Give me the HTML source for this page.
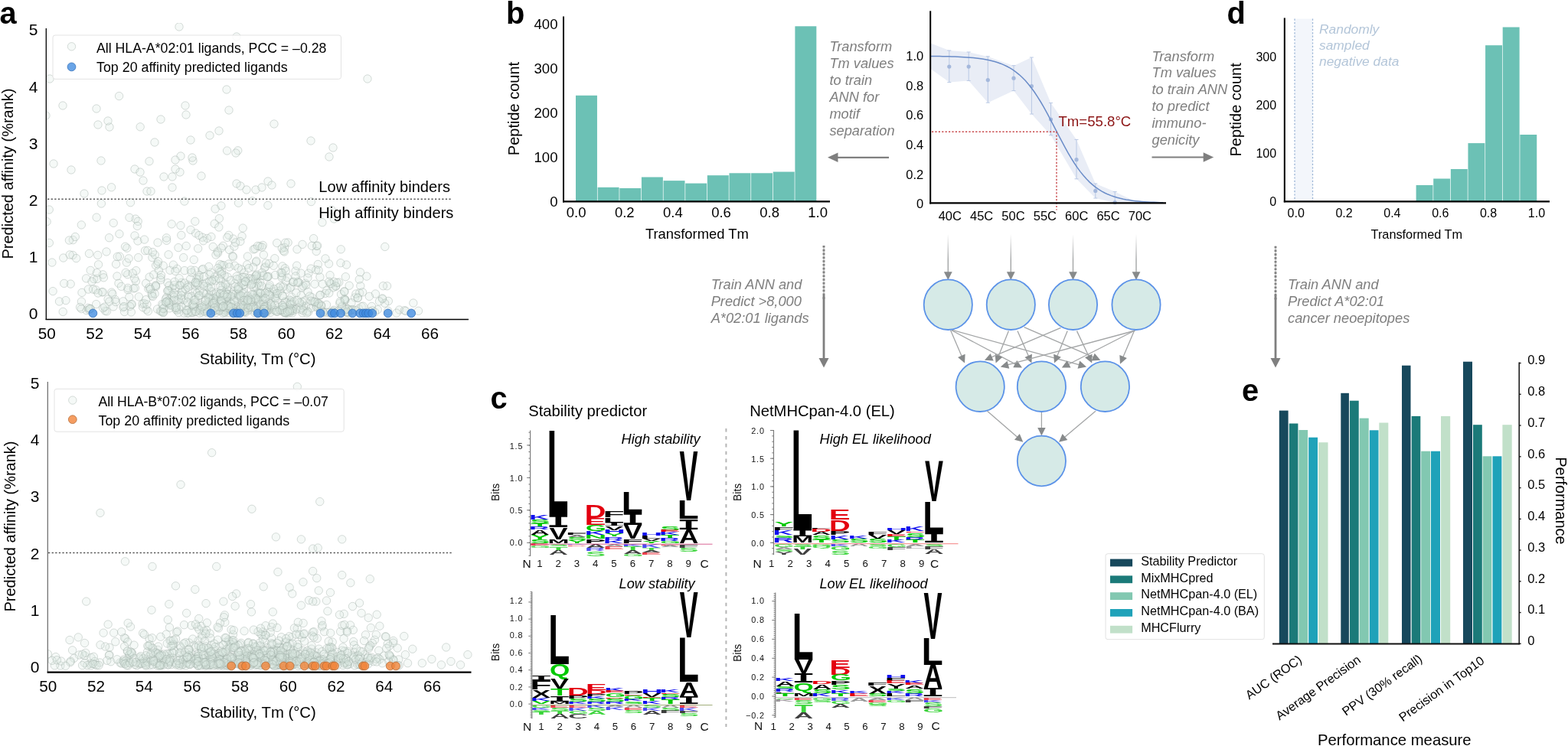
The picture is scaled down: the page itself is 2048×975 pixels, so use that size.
<!DOCTYPE html>
<html lang="en"><head><meta charset="utf-8"><title>Figure</title>
<style>
html,body{margin:0;padding:0;background:#fff;}
body{width:2048px;height:975px;overflow:hidden;}
svg{display:block;font-family:"Liberation Sans",sans-serif;fill:#000;}
</style></head><body>
<svg width="2048" height="975" viewBox="0 0 2048 975">
<rect width="2048" height="975" fill="#fff"/>
<g>
<clipPath id="ca"><rect x="60.3" y="30" width="560" height="388"/></clipPath>
<g clip-path="url(#ca)" fill="#dbebe1" fill-opacity="0.28" stroke="#9aaba3" stroke-opacity="0.4" stroke-width="1">
<circle cx="382.35" cy="403" r="5.2"/><circle cx="304.54" cy="312.1" r="5.2"/><circle cx="221.19" cy="380.44" r="5.2"/><circle cx="289.81" cy="346.42" r="5.2"/><circle cx="463.46" cy="388.93" r="5.2"/><circle cx="426.5" cy="398.27" r="5.2"/><circle cx="286" cy="171" r="5.2"/><circle cx="506.66" cy="406.21" r="5.2"/><circle cx="288.91" cy="268.92" r="5.2"/><circle cx="198.89" cy="336.63" r="5.2"/><circle cx="244.89" cy="409.33" r="5.2"/><circle cx="328.65" cy="388.93" r="5.2"/><circle cx="252.83" cy="404.02" r="5.2"/><circle cx="224.47" cy="385.47" r="5.2"/><circle cx="263.84" cy="352.59" r="5.2"/><circle cx="298.58" cy="408.83" r="5.2"/><circle cx="309" cy="48" r="5.2"/><circle cx="309.66" cy="401.4" r="5.2"/><circle cx="242" cy="138" r="5.2"/><circle cx="363.73" cy="401.49" r="5.2"/><circle cx="255.03" cy="373.33" r="5.2"/><circle cx="263" cy="230" r="5.2"/><circle cx="344.37" cy="333.03" r="5.2"/><circle cx="235" cy="225" r="5.2"/><circle cx="113.11" cy="405.8" r="5.2"/><circle cx="203.44" cy="372.97" r="5.2"/><circle cx="301.08" cy="402.23" r="5.2"/><circle cx="356.06" cy="401.25" r="5.2"/><circle cx="132.37" cy="266.02" r="5.2"/><circle cx="380" cy="240" r="5.2"/><circle cx="303.45" cy="405.81" r="5.2"/><circle cx="221.98" cy="353.24" r="5.2"/><circle cx="286.37" cy="285.61" r="5.2"/><circle cx="415.3" cy="345.46" r="5.2"/><circle cx="335.98" cy="361.95" r="5.2"/><circle cx="238.56" cy="381.78" r="5.2"/><circle cx="241.02" cy="353.59" r="5.2"/><circle cx="411.07" cy="371.27" r="5.2"/><circle cx="230.89" cy="405.61" r="5.2"/><circle cx="413.2" cy="328.49" r="5.2"/><circle cx="278.89" cy="365.36" r="5.2"/><circle cx="310.43" cy="406.39" r="5.2"/><circle cx="442.75" cy="368.99" r="5.2"/><circle cx="331.11" cy="325.9" r="5.2"/><circle cx="342.73" cy="403.49" r="5.2"/><circle cx="339.83" cy="369.07" r="5.2"/><circle cx="106.99" cy="382.38" r="5.2"/><circle cx="285.16" cy="388.7" r="5.2"/><circle cx="358.69" cy="388.39" r="5.2"/><circle cx="92.18" cy="371.13" r="5.2"/><circle cx="273.72" cy="367.48" r="5.2"/><circle cx="260.81" cy="405.23" r="5.2"/><circle cx="429.54" cy="344.79" r="5.2"/><circle cx="112.58" cy="363.89" r="5.2"/><circle cx="450.53" cy="391.63" r="5.2"/><circle cx="261.82" cy="403.69" r="5.2"/><circle cx="453.39" cy="403.42" r="5.2"/><circle cx="260.13" cy="359.57" r="5.2"/><circle cx="191.04" cy="404.54" r="5.2"/><circle cx="217.69" cy="388.54" r="5.2"/><circle cx="219.19" cy="394.17" r="5.2"/><circle cx="333.76" cy="364.77" r="5.2"/><circle cx="236.81" cy="389.79" r="5.2"/><circle cx="499.52" cy="390.81" r="5.2"/><circle cx="358.68" cy="381.26" r="5.2"/><circle cx="354.54" cy="404.87" r="5.2"/><circle cx="125.17" cy="378.88" r="5.2"/><circle cx="198.3" cy="386.15" r="5.2"/><circle cx="122.57" cy="364.56" r="5.2"/><circle cx="330.72" cy="370.45" r="5.2"/><circle cx="368.86" cy="347.93" r="5.2"/><circle cx="279.88" cy="394.46" r="5.2"/><circle cx="297.56" cy="396.6" r="5.2"/><circle cx="335.93" cy="387.02" r="5.2"/><circle cx="393.16" cy="385.95" r="5.2"/><circle cx="340.07" cy="388.38" r="5.2"/><circle cx="187" cy="236" r="5.2"/><circle cx="424.76" cy="383.46" r="5.2"/><circle cx="273.87" cy="359.03" r="5.2"/><circle cx="255.13" cy="394.99" r="5.2"/><circle cx="324.98" cy="405.35" r="5.2"/><circle cx="165.4" cy="343.11" r="5.2"/><circle cx="411.38" cy="395.65" r="5.2"/><circle cx="539.83" cy="396.04" r="5.2"/><circle cx="288.2" cy="402.07" r="5.2"/><circle cx="61.14" cy="289.7" r="5.2"/><circle cx="263.52" cy="408.08" r="5.2"/><circle cx="308.5" cy="383.09" r="5.2"/><circle cx="210.06" cy="362.99" r="5.2"/><circle cx="485.5" cy="400.44" r="5.2"/><circle cx="314" cy="243" r="5.2"/><circle cx="333.03" cy="325.28" r="5.2"/><circle cx="493.28" cy="404.64" r="5.2"/><circle cx="322.47" cy="399.83" r="5.2"/><circle cx="283.8" cy="390.06" r="5.2"/><circle cx="326.78" cy="396.27" r="5.2"/><circle cx="333.49" cy="407.2" r="5.2"/><circle cx="294.21" cy="407.9" r="5.2"/><circle cx="401.18" cy="406.39" r="5.2"/><circle cx="316.06" cy="308.75" r="5.2"/><circle cx="374.98" cy="409.39" r="5.2"/><circle cx="166.69" cy="358.72" r="5.2"/><circle cx="322.51" cy="391.31" r="5.2"/><circle cx="259.37" cy="365.06" r="5.2"/><circle cx="127.68" cy="333.44" r="5.2"/><circle cx="347.97" cy="401.89" r="5.2"/><circle cx="298.47" cy="345.02" r="5.2"/><circle cx="438.42" cy="374.44" r="5.2"/><circle cx="320.33" cy="405.94" r="5.2"/><circle cx="305.15" cy="381.04" r="5.2"/><circle cx="418.76" cy="404.14" r="5.2"/><circle cx="218.76" cy="380.28" r="5.2"/><circle cx="451.09" cy="392.17" r="5.2"/><circle cx="412.83" cy="401.54" r="5.2"/><circle cx="403" cy="357.15" r="5.2"/><circle cx="302.24" cy="387.45" r="5.2"/><circle cx="218.97" cy="369.62" r="5.2"/><circle cx="350.72" cy="376.65" r="5.2"/><circle cx="236" cy="204" r="5.2"/><circle cx="294" cy="400.49" r="5.2"/><circle cx="253.22" cy="339.46" r="5.2"/><circle cx="148.09" cy="400.83" r="5.2"/><circle cx="250.97" cy="398.86" r="5.2"/><circle cx="213.2" cy="347.1" r="5.2"/><circle cx="171.55" cy="398.13" r="5.2"/><circle cx="82" cy="138" r="5.2"/><circle cx="212.46" cy="407.5" r="5.2"/><circle cx="293.21" cy="359.86" r="5.2"/><circle cx="318.81" cy="356.43" r="5.2"/><circle cx="426.44" cy="408.29" r="5.2"/><circle cx="414.11" cy="395.39" r="5.2"/><circle cx="236.8" cy="307.37" r="5.2"/><circle cx="445.56" cy="384.63" r="5.2"/><circle cx="265.19" cy="370.99" r="5.2"/><circle cx="324.48" cy="398.87" r="5.2"/><circle cx="292.04" cy="346.67" r="5.2"/><circle cx="361.3" cy="386.6" r="5.2"/><circle cx="378.01" cy="392.12" r="5.2"/><circle cx="172.26" cy="397.45" r="5.2"/><circle cx="362.44" cy="407.38" r="5.2"/><circle cx="110" cy="253" r="5.2"/><circle cx="261.29" cy="402.17" r="5.2"/><circle cx="343.19" cy="389.63" r="5.2"/><circle cx="348.14" cy="397.06" r="5.2"/><circle cx="468.57" cy="403.33" r="5.2"/><circle cx="229.76" cy="404.38" r="5.2"/><circle cx="372.9" cy="408.72" r="5.2"/><circle cx="294.09" cy="399.47" r="5.2"/><circle cx="424.99" cy="337.89" r="5.2"/><circle cx="193.83" cy="377.3" r="5.2"/><circle cx="270.34" cy="408.79" r="5.2"/><circle cx="165.8" cy="324.25" r="5.2"/><circle cx="288.75" cy="366.68" r="5.2"/><circle cx="298.76" cy="307.36" r="5.2"/><circle cx="382.05" cy="403.05" r="5.2"/><circle cx="330.91" cy="384.35" r="5.2"/><circle cx="505.56" cy="373.8" r="5.2"/><circle cx="193.06" cy="75.63" r="5.2"/><circle cx="205.51" cy="404.01" r="5.2"/><circle cx="169.71" cy="400.43" r="5.2"/><circle cx="261.6" cy="385.75" r="5.2"/><circle cx="126.97" cy="364.37" r="5.2"/><circle cx="192" cy="250" r="5.2"/><circle cx="195.17" cy="362.07" r="5.2"/><circle cx="186.01" cy="397.19" r="5.2"/><circle cx="372.17" cy="394.53" r="5.2"/><circle cx="317.56" cy="400.71" r="5.2"/><circle cx="179.98" cy="314.94" r="5.2"/><circle cx="209.33" cy="406.57" r="5.2"/><circle cx="222.2" cy="398.99" r="5.2"/><circle cx="349.88" cy="268.44" r="5.2"/><circle cx="277.41" cy="397.21" r="5.2"/><circle cx="478.94" cy="361.12" r="5.2"/><circle cx="285.88" cy="404.59" r="5.2"/><circle cx="312.07" cy="387.93" r="5.2"/><circle cx="198.33" cy="383.51" r="5.2"/><circle cx="287.24" cy="406.34" r="5.2"/><circle cx="337.06" cy="398.02" r="5.2"/><circle cx="381.93" cy="405.39" r="5.2"/><circle cx="275.1" cy="400.1" r="5.2"/><circle cx="507.33" cy="393.51" r="5.2"/><circle cx="438.7" cy="407.87" r="5.2"/><circle cx="314.83" cy="398.57" r="5.2"/><circle cx="203.55" cy="347.04" r="5.2"/><circle cx="296.63" cy="376.12" r="5.2"/><circle cx="331" cy="401.63" r="5.2"/><circle cx="273.55" cy="386.19" r="5.2"/><circle cx="271.35" cy="395.27" r="5.2"/><circle cx="346.51" cy="400.64" r="5.2"/><circle cx="324.26" cy="363.34" r="5.2"/><circle cx="420.93" cy="290.7" r="5.2"/><circle cx="318.5" cy="377.49" r="5.2"/><circle cx="154.97" cy="370.25" r="5.2"/><circle cx="343.26" cy="320.47" r="5.2"/><circle cx="340.16" cy="387.77" r="5.2"/><circle cx="323.84" cy="394.03" r="5.2"/><circle cx="438.59" cy="373.74" r="5.2"/><circle cx="255.07" cy="381.27" r="5.2"/><circle cx="374.92" cy="378.07" r="5.2"/><circle cx="280.68" cy="361.78" r="5.2"/><circle cx="126" cy="142" r="5.2"/><circle cx="284.63" cy="330.68" r="5.2"/><circle cx="175.97" cy="307.93" r="5.2"/><circle cx="467.44" cy="389.49" r="5.2"/><circle cx="338.99" cy="321.94" r="5.2"/><circle cx="360.33" cy="383.74" r="5.2"/><circle cx="336.97" cy="390.3" r="5.2"/><circle cx="314.48" cy="401.09" r="5.2"/><circle cx="480" cy="103" r="5.2"/><circle cx="210.73" cy="407.03" r="5.2"/><circle cx="120.05" cy="367.91" r="5.2"/><circle cx="449.56" cy="380.78" r="5.2"/><circle cx="234.28" cy="404.18" r="5.2"/><circle cx="199.46" cy="387.44" r="5.2"/><circle cx="431.28" cy="370.58" r="5.2"/><circle cx="257.35" cy="383.07" r="5.2"/><circle cx="250.25" cy="406.77" r="5.2"/><circle cx="160.88" cy="401.85" r="5.2"/><circle cx="389.2" cy="368.02" r="5.2"/><circle cx="251.72" cy="408.56" r="5.2"/><circle cx="394.43" cy="375.82" r="5.2"/><circle cx="295.42" cy="382.79" r="5.2"/><circle cx="232.71" cy="393.59" r="5.2"/><circle cx="246.23" cy="408.92" r="5.2"/><circle cx="375.96" cy="404.22" r="5.2"/><circle cx="118.33" cy="403.48" r="5.2"/><circle cx="379.98" cy="405.11" r="5.2"/><circle cx="339.78" cy="383.57" r="5.2"/><circle cx="280.06" cy="394.73" r="5.2"/><circle cx="334" cy="248" r="5.2"/><circle cx="286.4" cy="352.86" r="5.2"/><circle cx="164.18" cy="356.33" r="5.2"/><circle cx="243.57" cy="405.24" r="5.2"/><circle cx="306.57" cy="347.24" r="5.2"/><circle cx="214.14" cy="402.32" r="5.2"/><circle cx="406.92" cy="388.4" r="5.2"/><circle cx="294.96" cy="398.17" r="5.2"/><circle cx="305.78" cy="409.27" r="5.2"/><circle cx="372.05" cy="394.63" r="5.2"/><circle cx="294.34" cy="405.13" r="5.2"/><circle cx="311.91" cy="385.75" r="5.2"/><circle cx="452.51" cy="346.03" r="5.2"/><circle cx="421.3" cy="371.19" r="5.2"/><circle cx="296.42" cy="378.7" r="5.2"/><circle cx="396.71" cy="400.56" r="5.2"/><circle cx="381.5" cy="397.3" r="5.2"/><circle cx="367.85" cy="360.54" r="5.2"/><circle cx="245.65" cy="372.31" r="5.2"/><circle cx="213.54" cy="407.95" r="5.2"/><circle cx="348.8" cy="403.37" r="5.2"/><circle cx="247.31" cy="373.92" r="5.2"/><circle cx="188.57" cy="313.08" r="5.2"/><circle cx="237.04" cy="369.44" r="5.2"/><circle cx="221.65" cy="397.5" r="5.2"/><circle cx="254.88" cy="407.54" r="5.2"/><circle cx="313.08" cy="363.78" r="5.2"/><circle cx="402.09" cy="381.4" r="5.2"/><circle cx="320.99" cy="395.62" r="5.2"/><circle cx="166.98" cy="378.82" r="5.2"/><circle cx="460.75" cy="404.4" r="5.2"/><circle cx="262.58" cy="402.83" r="5.2"/><circle cx="332.41" cy="408.64" r="5.2"/><circle cx="311.88" cy="378.86" r="5.2"/><circle cx="502.58" cy="396.29" r="5.2"/><circle cx="368.49" cy="398.88" r="5.2"/><circle cx="450.15" cy="392.69" r="5.2"/><circle cx="279.19" cy="389.73" r="5.2"/><circle cx="281.08" cy="401.38" r="5.2"/><circle cx="472.18" cy="400.65" r="5.2"/><circle cx="434.97" cy="406.76" r="5.2"/><circle cx="367.6" cy="405.87" r="5.2"/><circle cx="294.83" cy="372.53" r="5.2"/><circle cx="324.24" cy="367.24" r="5.2"/><circle cx="347.69" cy="389.86" r="5.2"/><circle cx="315.56" cy="352.19" r="5.2"/><circle cx="289.36" cy="402.54" r="5.2"/><circle cx="453.74" cy="408.3" r="5.2"/><circle cx="406" cy="184" r="5.2"/><circle cx="280.25" cy="292.35" r="5.2"/><circle cx="235.93" cy="294.68" r="5.2"/><circle cx="174.39" cy="377" r="5.2"/><circle cx="259.15" cy="387.14" r="5.2"/><circle cx="294.22" cy="391.39" r="5.2"/><circle cx="220.37" cy="396.11" r="5.2"/><circle cx="331.31" cy="399.21" r="5.2"/><circle cx="436.3" cy="286" r="5.2"/><circle cx="337.72" cy="394.96" r="5.2"/><circle cx="370.24" cy="327.78" r="5.2"/><circle cx="319.96" cy="362.5" r="5.2"/><circle cx="366.88" cy="356.22" r="5.2"/><circle cx="290.68" cy="392.63" r="5.2"/><circle cx="334.45" cy="342.41" r="5.2"/><circle cx="221.29" cy="391.8" r="5.2"/><circle cx="489.52" cy="407.85" r="5.2"/><circle cx="177.03" cy="286.13" r="5.2"/><circle cx="388.02" cy="325.87" r="5.2"/><circle cx="260.9" cy="379.94" r="5.2"/><circle cx="142.58" cy="310.75" r="5.2"/><circle cx="334.02" cy="360.38" r="5.2"/><circle cx="177.47" cy="367.56" r="5.2"/><circle cx="224.58" cy="377.04" r="5.2"/><circle cx="285.83" cy="296.97" r="5.2"/><circle cx="341.37" cy="360.5" r="5.2"/><circle cx="339.89" cy="397.76" r="5.2"/><circle cx="293.47" cy="405.64" r="5.2"/><circle cx="150.4" cy="391.55" r="5.2"/><circle cx="342" cy="245" r="5.2"/><circle cx="234" cy="35" r="5.2"/><circle cx="310.8" cy="389.99" r="5.2"/><circle cx="158.47" cy="374.37" r="5.2"/><circle cx="453.17" cy="408.06" r="5.2"/><circle cx="118.2" cy="353.39" r="5.2"/><circle cx="344.68" cy="403.45" r="5.2"/><circle cx="291.03" cy="383.57" r="5.2"/><circle cx="269.72" cy="383.9" r="5.2"/><circle cx="274.86" cy="405.48" r="5.2"/><circle cx="216.31" cy="391.06" r="5.2"/><circle cx="284.17" cy="387.19" r="5.2"/><circle cx="365.95" cy="379.95" r="5.2"/><circle cx="348.58" cy="381.55" r="5.2"/><circle cx="95.29" cy="313.64" r="5.2"/><circle cx="297.1" cy="388.19" r="5.2"/><circle cx="358" cy="162" r="5.2"/><circle cx="152.93" cy="360.93" r="5.2"/><circle cx="234.7" cy="372.86" r="5.2"/><circle cx="353.81" cy="394.09" r="5.2"/><circle cx="486.35" cy="405.92" r="5.2"/><circle cx="133.12" cy="381.8" r="5.2"/><circle cx="232.16" cy="385.77" r="5.2"/><circle cx="296.58" cy="196.98" r="5.2"/><circle cx="380.41" cy="393.21" r="5.2"/><circle cx="430" cy="205" r="5.2"/><circle cx="322.05" cy="400.43" r="5.2"/><circle cx="376.16" cy="316.97" r="5.2"/><circle cx="353.4" cy="408.33" r="5.2"/><circle cx="207.36" cy="353.32" r="5.2"/><circle cx="296.11" cy="403.56" r="5.2"/><circle cx="189.52" cy="327.65" r="5.2"/><circle cx="275.36" cy="356.1" r="5.2"/><circle cx="409.59" cy="311.67" r="5.2"/><circle cx="231.28" cy="351.32" r="5.2"/><circle cx="299.55" cy="326.52" r="5.2"/><circle cx="349.97" cy="405.47" r="5.2"/><circle cx="116.09" cy="404.67" r="5.2"/><circle cx="253.32" cy="400.37" r="5.2"/><circle cx="380.15" cy="374.99" r="5.2"/><circle cx="385.95" cy="354.19" r="5.2"/><circle cx="67.92" cy="343.07" r="5.2"/><circle cx="287.08" cy="345.42" r="5.2"/><circle cx="296" cy="117" r="5.2"/><circle cx="379.34" cy="395.68" r="5.2"/><circle cx="432.73" cy="370.91" r="5.2"/><circle cx="145.82" cy="382.1" r="5.2"/><circle cx="282.77" cy="382.21" r="5.2"/><circle cx="326.03" cy="390.19" r="5.2"/><circle cx="415.05" cy="399.56" r="5.2"/><circle cx="457.92" cy="405.89" r="5.2"/><circle cx="345.43" cy="350.01" r="5.2"/><circle cx="311.43" cy="384.22" r="5.2"/><circle cx="289.32" cy="354.38" r="5.2"/><circle cx="151.23" cy="394.55" r="5.2"/><circle cx="351.58" cy="381.68" r="5.2"/><circle cx="366.24" cy="374.06" r="5.2"/><circle cx="309" cy="240" r="5.2"/><circle cx="295.19" cy="397.44" r="5.2"/><circle cx="256.73" cy="364.94" r="5.2"/><circle cx="350.72" cy="361.19" r="5.2"/><circle cx="369.94" cy="374.69" r="5.2"/><circle cx="274.35" cy="389.04" r="5.2"/><circle cx="312.09" cy="386.95" r="5.2"/><circle cx="226.36" cy="346.11" r="5.2"/><circle cx="209.8" cy="365.81" r="5.2"/><circle cx="230.36" cy="400.12" r="5.2"/><circle cx="210" cy="156" r="5.2"/><circle cx="168.85" cy="388.18" r="5.2"/><circle cx="342.73" cy="408.63" r="5.2"/><circle cx="300.95" cy="405.1" r="5.2"/><circle cx="458.87" cy="404.67" r="5.2"/><circle cx="252.42" cy="396.88" r="5.2"/><circle cx="167.05" cy="376.43" r="5.2"/><circle cx="348.94" cy="406.74" r="5.2"/><circle cx="95.05" cy="333.46" r="5.2"/><circle cx="358.83" cy="337.71" r="5.2"/><circle cx="229" cy="221" r="5.2"/><circle cx="383.33" cy="403.39" r="5.2"/><circle cx="60" cy="151" r="5.2"/><circle cx="372.28" cy="350.77" r="5.2"/><circle cx="308.09" cy="399.66" r="5.2"/><circle cx="351.86" cy="374.58" r="5.2"/><circle cx="193.52" cy="406.76" r="5.2"/><circle cx="141.08" cy="390.96" r="5.2"/><circle cx="205.86" cy="344.93" r="5.2"/><circle cx="260.6" cy="409.29" r="5.2"/><circle cx="93" cy="222" r="5.2"/><circle cx="279.19" cy="404.43" r="5.2"/><circle cx="134.3" cy="358.82" r="5.2"/><circle cx="338.66" cy="373.67" r="5.2"/><circle cx="239.9" cy="392.08" r="5.2"/><circle cx="213.14" cy="398.48" r="5.2"/><circle cx="306.31" cy="394.44" r="5.2"/><circle cx="252" cy="210" r="5.2"/><circle cx="339.3" cy="407.16" r="5.2"/><circle cx="249" cy="183" r="5.2"/><circle cx="319.84" cy="398.26" r="5.2"/><circle cx="116.48" cy="331.39" r="5.2"/><circle cx="281.82" cy="391.69" r="5.2"/><circle cx="229" cy="209" r="5.2"/><circle cx="162.57" cy="407.48" r="5.2"/><circle cx="393.09" cy="357.1" r="5.2"/><circle cx="242.9" cy="399.4" r="5.2"/><circle cx="338.32" cy="408.18" r="5.2"/><circle cx="350" cy="237" r="5.2"/><circle cx="267.88" cy="403.87" r="5.2"/><circle cx="334.88" cy="341.16" r="5.2"/><circle cx="177.77" cy="353.65" r="5.2"/><circle cx="245.45" cy="386.86" r="5.2"/><circle cx="156.3" cy="335.16" r="5.2"/><circle cx="263.83" cy="398.31" r="5.2"/><circle cx="328.07" cy="364.06" r="5.2"/><circle cx="213.04" cy="408.77" r="5.2"/><circle cx="346.53" cy="348.91" r="5.2"/><circle cx="329.37" cy="262.72" r="5.2"/><circle cx="419.45" cy="398.67" r="5.2"/><circle cx="69.07" cy="380.63" r="5.2"/><circle cx="311.49" cy="265.21" r="5.2"/><circle cx="211.85" cy="397.42" r="5.2"/><circle cx="265.41" cy="382.52" r="5.2"/><circle cx="499.44" cy="389.96" r="5.2"/><circle cx="318.89" cy="388.94" r="5.2"/><circle cx="250.13" cy="387.17" r="5.2"/><circle cx="146.9" cy="384.17" r="5.2"/><circle cx="394.9" cy="408.89" r="5.2"/><circle cx="270.67" cy="311.46" r="5.2"/><circle cx="351.46" cy="344.54" r="5.2"/><circle cx="336.53" cy="370.44" r="5.2"/><circle cx="287.55" cy="384.55" r="5.2"/><circle cx="393.89" cy="397.85" r="5.2"/><circle cx="347.06" cy="409.36" r="5.2"/><circle cx="470.83" cy="373.62" r="5.2"/><circle cx="217.45" cy="395.16" r="5.2"/><circle cx="358.71" cy="405.35" r="5.2"/><circle cx="203.62" cy="374.69" r="5.2"/><circle cx="296.74" cy="310.35" r="5.2"/><circle cx="255.64" cy="369.73" r="5.2"/><circle cx="225" cy="245" r="5.2"/><circle cx="418.36" cy="385.7" r="5.2"/><circle cx="303.85" cy="402.29" r="5.2"/><circle cx="303.78" cy="334.52" r="5.2"/><circle cx="260.09" cy="362.78" r="5.2"/><circle cx="281.41" cy="408.76" r="5.2"/><circle cx="278.85" cy="389.34" r="5.2"/><circle cx="398.37" cy="392.73" r="5.2"/><circle cx="305.92" cy="322.14" r="5.2"/><circle cx="342.11" cy="391.36" r="5.2"/><circle cx="151.58" cy="345.18" r="5.2"/><circle cx="64.25" cy="274.03" r="5.2"/><circle cx="449.5" cy="406.59" r="5.2"/><circle cx="417.89" cy="362.02" r="5.2"/><circle cx="291.16" cy="409.23" r="5.2"/><circle cx="346.18" cy="402.01" r="5.2"/><circle cx="380.92" cy="388.15" r="5.2"/><circle cx="469.61" cy="382.82" r="5.2"/><circle cx="137.42" cy="406.26" r="5.2"/><circle cx="251" cy="206" r="5.2"/><circle cx="278.23" cy="322.46" r="5.2"/><circle cx="240.39" cy="409.27" r="5.2"/><circle cx="346.98" cy="407.08" r="5.2"/><circle cx="369.38" cy="386.78" r="5.2"/><circle cx="371.69" cy="323.4" r="5.2"/><circle cx="206.5" cy="341.72" r="5.2"/><circle cx="322.72" cy="345.91" r="5.2"/><circle cx="310.74" cy="196.78" r="5.2"/><circle cx="202.35" cy="332.96" r="5.2"/><circle cx="99.56" cy="337.56" r="5.2"/><circle cx="223.95" cy="399.06" r="5.2"/><circle cx="258.66" cy="324.87" r="5.2"/><circle cx="309.11" cy="361.29" r="5.2"/><circle cx="313.84" cy="315.49" r="5.2"/><circle cx="416.05" cy="397.24" r="5.2"/><circle cx="368.6" cy="404.56" r="5.2"/><circle cx="349.68" cy="361.6" r="5.2"/><circle cx="275.91" cy="309.43" r="5.2"/><circle cx="133" cy="249" r="5.2"/><circle cx="293.06" cy="408.25" r="5.2"/><circle cx="282.22" cy="384.14" r="5.2"/><circle cx="406.49" cy="263.59" r="5.2"/><circle cx="290.95" cy="374.48" r="5.2"/><circle cx="373.96" cy="407.92" r="5.2"/><circle cx="521.6" cy="405" r="5.2"/><circle cx="240.87" cy="263.08" r="5.2"/><circle cx="228.84" cy="376.21" r="5.2"/><circle cx="281.11" cy="273.03" r="5.2"/><circle cx="359" cy="389.89" r="5.2"/><circle cx="318.86" cy="406.48" r="5.2"/><circle cx="281.05" cy="405.82" r="5.2"/><circle cx="251.85" cy="398.64" r="5.2"/><circle cx="307.1" cy="374.84" r="5.2"/><circle cx="430.1" cy="408.56" r="5.2"/><circle cx="436.31" cy="368.29" r="5.2"/><circle cx="82.74" cy="337.05" r="5.2"/><circle cx="380.59" cy="405.71" r="5.2"/><circle cx="464.9" cy="384" r="5.2"/><circle cx="308" cy="200" r="5.2"/><circle cx="436.14" cy="405.27" r="5.2"/><circle cx="254.37" cy="353.39" r="5.2"/><circle cx="299.16" cy="402.68" r="5.2"/><circle cx="186.59" cy="401.63" r="5.2"/><circle cx="373.37" cy="366.88" r="5.2"/><circle cx="248.58" cy="364.8" r="5.2"/><circle cx="381.92" cy="408.89" r="5.2"/><circle cx="284.09" cy="328.82" r="5.2"/><circle cx="368.25" cy="324.34" r="5.2"/><circle cx="275.62" cy="401.28" r="5.2"/><circle cx="546.48" cy="406.33" r="5.2"/><circle cx="273.02" cy="376.84" r="5.2"/><circle cx="355" cy="242" r="5.2"/><circle cx="233.44" cy="408.52" r="5.2"/><circle cx="446.73" cy="399.78" r="5.2"/><circle cx="289.2" cy="401.15" r="5.2"/><circle cx="294.79" cy="370.86" r="5.2"/><circle cx="345.24" cy="403.76" r="5.2"/><circle cx="258.77" cy="372.46" r="5.2"/><circle cx="115.27" cy="402.45" r="5.2"/><circle cx="318.7" cy="382.52" r="5.2"/><circle cx="233.26" cy="391.47" r="5.2"/><circle cx="286.02" cy="405.93" r="5.2"/><circle cx="318.02" cy="407.71" r="5.2"/><circle cx="331.32" cy="400.62" r="5.2"/><circle cx="250.18" cy="408.29" r="5.2"/><circle cx="195.31" cy="375.44" r="5.2"/><circle cx="317.01" cy="383.84" r="5.2"/><circle cx="398.99" cy="370.3" r="5.2"/><circle cx="180.22" cy="289.32" r="5.2"/><circle cx="264.39" cy="310.19" r="5.2"/><circle cx="217.62" cy="314.31" r="5.2"/><circle cx="392.27" cy="404.19" r="5.2"/><circle cx="237.58" cy="380.8" r="5.2"/><circle cx="255.04" cy="391.86" r="5.2"/><circle cx="459" cy="395.79" r="5.2"/><circle cx="220.97" cy="373.3" r="5.2"/><circle cx="431.03" cy="359.66" r="5.2"/><circle cx="344.05" cy="360.2" r="5.2"/><circle cx="179.35" cy="295.38" r="5.2"/><circle cx="369.79" cy="401.8" r="5.2"/><circle cx="117.37" cy="403.53" r="5.2"/><circle cx="454.31" cy="403.96" r="5.2"/><circle cx="314.38" cy="407.66" r="5.2"/><circle cx="139" cy="328.96" r="5.2"/><circle cx="299.63" cy="349.04" r="5.2"/><circle cx="393.99" cy="402.64" r="5.2"/><circle cx="287.16" cy="355.77" r="5.2"/><circle cx="371.93" cy="408.45" r="5.2"/><circle cx="352.24" cy="372.17" r="5.2"/><circle cx="125.67" cy="397.58" r="5.2"/><circle cx="312.99" cy="404.62" r="5.2"/><circle cx="219.54" cy="379.68" r="5.2"/><circle cx="134.35" cy="381.77" r="5.2"/><circle cx="261.58" cy="405.69" r="5.2"/><circle cx="115.33" cy="378.1" r="5.2"/><circle cx="323.67" cy="395.25" r="5.2"/><circle cx="467.21" cy="389.1" r="5.2"/><circle cx="331.29" cy="385.76" r="5.2"/><circle cx="399.7" cy="399.98" r="5.2"/><circle cx="343.15" cy="407.88" r="5.2"/><circle cx="413.52" cy="321.46" r="5.2"/><circle cx="304.38" cy="335.65" r="5.2"/><circle cx="188.22" cy="396.39" r="5.2"/><circle cx="337.48" cy="408.96" r="5.2"/><circle cx="289.45" cy="358.25" r="5.2"/><circle cx="297.55" cy="384.81" r="5.2"/><circle cx="378.32" cy="405.01" r="5.2"/><circle cx="181.33" cy="387.88" r="5.2"/><circle cx="314.59" cy="386.26" r="5.2"/><circle cx="242.31" cy="377.66" r="5.2"/><circle cx="412.71" cy="352.76" r="5.2"/><circle cx="318.82" cy="404" r="5.2"/><circle cx="404.41" cy="387.11" r="5.2"/><circle cx="417.86" cy="385.67" r="5.2"/><circle cx="341.31" cy="409.1" r="5.2"/><circle cx="414.59" cy="321.1" r="5.2"/><circle cx="65" cy="103" r="5.2"/><circle cx="409.2" cy="394.02" r="5.2"/><circle cx="325.22" cy="398.32" r="5.2"/><circle cx="317" cy="362.47" r="5.2"/><circle cx="218.35" cy="393.42" r="5.2"/><circle cx="434.77" cy="408.1" r="5.2"/><circle cx="337.22" cy="401.99" r="5.2"/><circle cx="281.67" cy="366.81" r="5.2"/><circle cx="272.76" cy="390.4" r="5.2"/><circle cx="82.22" cy="407.45" r="5.2"/><circle cx="450.04" cy="390.65" r="5.2"/><circle cx="227.36" cy="372.81" r="5.2"/><circle cx="106.43" cy="394.11" r="5.2"/><circle cx="343.95" cy="406.22" r="5.2"/><circle cx="473.6" cy="381.94" r="5.2"/><circle cx="490.42" cy="384.01" r="5.2"/><circle cx="317.22" cy="298.09" r="5.2"/><circle cx="340.55" cy="383.41" r="5.2"/><circle cx="275.95" cy="380.9" r="5.2"/><circle cx="426.78" cy="379.67" r="5.2"/><circle cx="128" cy="163" r="5.2"/><circle cx="250.14" cy="356.13" r="5.2"/><circle cx="191.91" cy="397.81" r="5.2"/><circle cx="334.65" cy="374.73" r="5.2"/><circle cx="360.47" cy="390.24" r="5.2"/><circle cx="378.88" cy="376.5" r="5.2"/><circle cx="128.53" cy="345.77" r="5.2"/><circle cx="225" cy="231" r="5.2"/><circle cx="145.56" cy="244.79" r="5.2"/><circle cx="266.24" cy="361.51" r="5.2"/><circle cx="217.46" cy="310.89" r="5.2"/><circle cx="342.22" cy="356.29" r="5.2"/><circle cx="98.26" cy="309.5" r="5.2"/><circle cx="296.72" cy="384.61" r="5.2"/><circle cx="126.12" cy="284.14" r="5.2"/><circle cx="327.73" cy="401.65" r="5.2"/><circle cx="272.83" cy="394.77" r="5.2"/><circle cx="243.99" cy="405.79" r="5.2"/><circle cx="394.82" cy="394.32" r="5.2"/><circle cx="336.83" cy="382.42" r="5.2"/><circle cx="306.54" cy="370.31" r="5.2"/><circle cx="301.13" cy="387.46" r="5.2"/><circle cx="272.72" cy="348.54" r="5.2"/><circle cx="378.67" cy="408.2" r="5.2"/><circle cx="300.02" cy="395.04" r="5.2"/><circle cx="295" cy="401.89" r="5.2"/><circle cx="267.06" cy="406.87" r="5.2"/><circle cx="339.18" cy="408.96" r="5.2"/><circle cx="255.63" cy="304.87" r="5.2"/><circle cx="288.84" cy="393.69" r="5.2"/><circle cx="456.15" cy="373.25" r="5.2"/><circle cx="379.45" cy="403.66" r="5.2"/><circle cx="347.21" cy="343.95" r="5.2"/><circle cx="307.77" cy="407.46" r="5.2"/><circle cx="126.45" cy="356.51" r="5.2"/><circle cx="454.61" cy="409.3" r="5.2"/><circle cx="334.3" cy="360.17" r="5.2"/><circle cx="143" cy="166" r="5.2"/><circle cx="296.02" cy="393.52" r="5.2"/><circle cx="433" cy="274.35" r="5.2"/><circle cx="301.57" cy="396.23" r="5.2"/><circle cx="77.49" cy="394.01" r="5.2"/><circle cx="90.4" cy="314.05" r="5.2"/><circle cx="330.28" cy="401.84" r="5.2"/><circle cx="229.74" cy="402.49" r="5.2"/><circle cx="357.23" cy="347.27" r="5.2"/><circle cx="239.7" cy="336.6" r="5.2"/><circle cx="277.35" cy="396.29" r="5.2"/><circle cx="361.13" cy="405.87" r="5.2"/><circle cx="317.85" cy="372.12" r="5.2"/><circle cx="401.92" cy="363.02" r="5.2"/><circle cx="206.03" cy="317.04" r="5.2"/><circle cx="227.93" cy="368.26" r="5.2"/><circle cx="322.89" cy="393.94" r="5.2"/><circle cx="449.93" cy="381.4" r="5.2"/><circle cx="192.89" cy="327.39" r="5.2"/><circle cx="199.36" cy="329.58" r="5.2"/><circle cx="175.73" cy="364.04" r="5.2"/><circle cx="336.51" cy="321.48" r="5.2"/><circle cx="370.3" cy="408.15" r="5.2"/><circle cx="302.03" cy="397.35" r="5.2"/><circle cx="348.28" cy="403.12" r="5.2"/><circle cx="232.97" cy="323.65" r="5.2"/><circle cx="375.22" cy="362.76" r="5.2"/><circle cx="200.81" cy="358.88" r="5.2"/><circle cx="249.01" cy="300.33" r="5.2"/><circle cx="176" cy="221" r="5.2"/><circle cx="141" cy="158" r="5.2"/><circle cx="287.52" cy="397.74" r="5.2"/><circle cx="495.44" cy="393.84" r="5.2"/><circle cx="265.09" cy="351.5" r="5.2"/><circle cx="406.23" cy="402.72" r="5.2"/><circle cx="446.37" cy="401.29" r="5.2"/><circle cx="194.97" cy="210.79" r="5.2"/><circle cx="351.63" cy="385.2" r="5.2"/><circle cx="254.82" cy="289.34" r="5.2"/><circle cx="342.16" cy="323.03" r="5.2"/><circle cx="363.69" cy="375.98" r="5.2"/><circle cx="395.01" cy="319.4" r="5.2"/><circle cx="171.34" cy="407.91" r="5.2"/><circle cx="361" cy="407.28" r="5.2"/><circle cx="227.71" cy="388.28" r="5.2"/><circle cx="228.97" cy="354.36" r="5.2"/><circle cx="422.13" cy="408.17" r="5.2"/><circle cx="368.51" cy="405.17" r="5.2"/><circle cx="382.65" cy="368.45" r="5.2"/><circle cx="353.31" cy="397.16" r="5.2"/><circle cx="203.28" cy="373.36" r="5.2"/><circle cx="382.32" cy="406.31" r="5.2"/><circle cx="340.13" cy="382.45" r="5.2"/><circle cx="202.13" cy="384.03" r="5.2"/><circle cx="453.22" cy="407.5" r="5.2"/><circle cx="291.02" cy="386.6" r="5.2"/><circle cx="386.82" cy="382.82" r="5.2"/><circle cx="155.9" cy="305.74" r="5.2"/><circle cx="320.89" cy="408.35" r="5.2"/><circle cx="315.66" cy="370.37" r="5.2"/><circle cx="278.29" cy="407.32" r="5.2"/><circle cx="163.56" cy="322.28" r="5.2"/><circle cx="246.21" cy="388.41" r="5.2"/><circle cx="373.43" cy="354.21" r="5.2"/><circle cx="435" cy="193" r="5.2"/><circle cx="464.64" cy="405.66" r="5.2"/><circle cx="407.36" cy="321.29" r="5.2"/><circle cx="180.66" cy="336.59" r="5.2"/><circle cx="336.53" cy="406.65" r="5.2"/><circle cx="121.6" cy="378.13" r="5.2"/><circle cx="290.46" cy="401.17" r="5.2"/><circle cx="106.24" cy="403.62" r="5.2"/><circle cx="183.17" cy="165.82" r="5.2"/><circle cx="271.96" cy="388.66" r="5.2"/><circle cx="443.82" cy="396.45" r="5.2"/><circle cx="139.51" cy="406.89" r="5.2"/><circle cx="142.77" cy="394.14" r="5.2"/><circle cx="378.97" cy="398.26" r="5.2"/><circle cx="229.99" cy="401.96" r="5.2"/><circle cx="270.99" cy="374.8" r="5.2"/><circle cx="482.84" cy="406.92" r="5.2"/><circle cx="106.34" cy="293.93" r="5.2"/><circle cx="160.85" cy="393.84" r="5.2"/><circle cx="413.67" cy="400.64" r="5.2"/><circle cx="435.05" cy="375.9" r="5.2"/><circle cx="259.87" cy="307.59" r="5.2"/><circle cx="243.2" cy="321.45" r="5.2"/><circle cx="418.61" cy="407.09" r="5.2"/><circle cx="371.36" cy="328.96" r="5.2"/><circle cx="243" cy="150" r="5.2"/><circle cx="128.07" cy="383.07" r="5.2"/><circle cx="236.84" cy="385.99" r="5.2"/><circle cx="344.17" cy="404.21" r="5.2"/><circle cx="334.05" cy="389.2" r="5.2"/><circle cx="227.4" cy="392.11" r="5.2"/><circle cx="244.84" cy="394.82" r="5.2"/><circle cx="299" cy="144" r="5.2"/><circle cx="330.6" cy="349.15" r="5.2"/><circle cx="220.08" cy="332.77" r="5.2"/><circle cx="312.29" cy="406.62" r="5.2"/><circle cx="190.66" cy="370.21" r="5.2"/><circle cx="357.83" cy="377.85" r="5.2"/><circle cx="190.68" cy="391.68" r="5.2"/><circle cx="269.28" cy="400.91" r="5.2"/><circle cx="331.36" cy="375.72" r="5.2"/><circle cx="441.95" cy="406.14" r="5.2"/><circle cx="214" cy="231" r="5.2"/><circle cx="227" cy="383.26" r="5.2"/><circle cx="161.83" cy="400.56" r="5.2"/><circle cx="362.21" cy="383.63" r="5.2"/><circle cx="296.98" cy="399.48" r="5.2"/><circle cx="259.85" cy="386.24" r="5.2"/><circle cx="318.42" cy="372.45" r="5.2"/><circle cx="210.43" cy="359.4" r="5.2"/><circle cx="281.99" cy="333.04" r="5.2"/><circle cx="271.04" cy="407.24" r="5.2"/><circle cx="197" cy="250" r="5.2"/><circle cx="132" cy="210" r="5.2"/><circle cx="474.24" cy="400.14" r="5.2"/><circle cx="303.82" cy="384.93" r="5.2"/><circle cx="384.09" cy="394.17" r="5.2"/><circle cx="213.29" cy="403.49" r="5.2"/><circle cx="267.02" cy="399.48" r="5.2"/><circle cx="263.92" cy="400.82" r="5.2"/><circle cx="306.63" cy="408.28" r="5.2"/><circle cx="348.87" cy="361.81" r="5.2"/><circle cx="396.01" cy="373.86" r="5.2"/><circle cx="323.34" cy="386.92" r="5.2"/><circle cx="416.38" cy="396.68" r="5.2"/><circle cx="445.28" cy="325.83" r="5.2"/><circle cx="134.51" cy="402.73" r="5.2"/><circle cx="406.05" cy="393.18" r="5.2"/><circle cx="370.39" cy="401.65" r="5.2"/><circle cx="245.15" cy="375.55" r="5.2"/><circle cx="470.51" cy="355.78" r="5.2"/><circle cx="284.56" cy="400.77" r="5.2"/><circle cx="348.8" cy="400.37" r="5.2"/><circle cx="402.64" cy="407.83" r="5.2"/><circle cx="297.15" cy="361.92" r="5.2"/><circle cx="451.37" cy="361.73" r="5.2"/><circle cx="279.5" cy="396.1" r="5.2"/><circle cx="391.22" cy="395.52" r="5.2"/><circle cx="352.78" cy="386.5" r="5.2"/><circle cx="269.76" cy="369.63" r="5.2"/><circle cx="319.8" cy="407.42" r="5.2"/><circle cx="266.35" cy="373.96" r="5.2"/><circle cx="287.47" cy="383.76" r="5.2"/><circle cx="284.61" cy="350.42" r="5.2"/><circle cx="322" cy="248" r="5.2"/><circle cx="500.39" cy="373.73" r="5.2"/><circle cx="196.46" cy="377.91" r="5.2"/><circle cx="202" cy="186" r="5.2"/><circle cx="330.65" cy="365.07" r="5.2"/><circle cx="314.64" cy="402.85" r="5.2"/><circle cx="419.66" cy="400.13" r="5.2"/><circle cx="170.47" cy="264.7" r="5.2"/><circle cx="440.19" cy="369.43" r="5.2"/><circle cx="235.16" cy="372.64" r="5.2"/><circle cx="267.76" cy="394.15" r="5.2"/><circle cx="386.9" cy="404.23" r="5.2"/><circle cx="327.87" cy="394.53" r="5.2"/><circle cx="334.61" cy="390.69" r="5.2"/><circle cx="173.25" cy="357.12" r="5.2"/><circle cx="176.36" cy="376.3" r="5.2"/><circle cx="323.44" cy="335.08" r="5.2"/><circle cx="365.62" cy="405.24" r="5.2"/><circle cx="168.98" cy="284.33" r="5.2"/><circle cx="329.08" cy="384.53" r="5.2"/><circle cx="395.7" cy="405.78" r="5.2"/><circle cx="324.87" cy="350.58" r="5.2"/><circle cx="296.25" cy="388.06" r="5.2"/><circle cx="291.35" cy="321.32" r="5.2"/><circle cx="318.41" cy="392.43" r="5.2"/><circle cx="320.31" cy="368.11" r="5.2"/><circle cx="372.74" cy="317.23" r="5.2"/><circle cx="335.43" cy="358.93" r="5.2"/><circle cx="135.39" cy="362.82" r="5.2"/><circle cx="291.62" cy="400.45" r="5.2"/><circle cx="224.18" cy="292.84" r="5.2"/><circle cx="288.3" cy="392.05" r="5.2"/><circle cx="344.37" cy="397.49" r="5.2"/><circle cx="482.35" cy="387.38" r="5.2"/><circle cx="311.16" cy="375.29" r="5.2"/><circle cx="241.08" cy="369.87" r="5.2"/><circle cx="502.82" cy="322.46" r="5.2"/><circle cx="429.87" cy="368.14" r="5.2"/><circle cx="317.29" cy="399.27" r="5.2"/><circle cx="249.38" cy="352.95" r="5.2"/><circle cx="220.47" cy="395.62" r="5.2"/><circle cx="216.43" cy="394.93" r="5.2"/><circle cx="343.45" cy="407.95" r="5.2"/><circle cx="155.58" cy="125.56" r="5.2"/><circle cx="451.36" cy="404.6" r="5.2"/><circle cx="346.47" cy="383.19" r="5.2"/><circle cx="153.31" cy="335.48" r="5.2"/><circle cx="372.6" cy="409.01" r="5.2"/><circle cx="85.91" cy="392.65" r="5.2"/><circle cx="301.59" cy="366.36" r="5.2"/><circle cx="253.32" cy="392.34" r="5.2"/><circle cx="285.96" cy="364.24" r="5.2"/><circle cx="390.14" cy="368.99" r="5.2"/><circle cx="378.22" cy="406.31" r="5.2"/><circle cx="298.79" cy="400.04" r="5.2"/><circle cx="383.38" cy="368.53" r="5.2"/><circle cx="388.7" cy="369.3" r="5.2"/><circle cx="346.26" cy="389.77" r="5.2"/><circle cx="274" cy="177" r="5.2"/><circle cx="416.1" cy="353.26" r="5.2"/><circle cx="309.17" cy="364.81" r="5.2"/><circle cx="346.77" cy="407.31" r="5.2"/><circle cx="265.6" cy="314.75" r="5.2"/><circle cx="327.66" cy="392.02" r="5.2"/><circle cx="411.06" cy="394.43" r="5.2"/><circle cx="469.25" cy="365.14" r="5.2"/><circle cx="444.18" cy="394.17" r="5.2"/><circle cx="388.07" cy="392.41" r="5.2"/><circle cx="221.31" cy="402.9" r="5.2"/><circle cx="255.82" cy="407.1" r="5.2"/><circle cx="305.84" cy="392.74" r="5.2"/><circle cx="341.54" cy="373.77" r="5.2"/><circle cx="91.18" cy="332.99" r="5.2"/><circle cx="361.7" cy="317.6" r="5.2"/><circle cx="429.78" cy="383.01" r="5.2"/><circle cx="70" cy="214" r="5.2"/><circle cx="289.13" cy="324.07" r="5.2"/><circle cx="275.58" cy="375.18" r="5.2"/><circle cx="236.95" cy="400.95" r="5.2"/><circle cx="375.56" cy="407.24" r="5.2"/><circle cx="168.17" cy="337.88" r="5.2"/><circle cx="345.47" cy="401.23" r="5.2"/><circle cx="320.49" cy="367.86" r="5.2"/><circle cx="367.89" cy="362.7" r="5.2"/><circle cx="528.3" cy="405.67" r="5.2"/><circle cx="399.78" cy="372.58" r="5.2"/><circle cx="289.35" cy="393.11" r="5.2"/><circle cx="334.61" cy="404.03" r="5.2"/><circle cx="517.87" cy="409.16" r="5.2"/><circle cx="83.72" cy="370.42" r="5.2"/><circle cx="323.74" cy="402.36" r="5.2"/><circle cx="328.08" cy="372.56" r="5.2"/><circle cx="104.55" cy="401.53" r="5.2"/><circle cx="276.66" cy="367.23" r="5.2"/><circle cx="368.98" cy="399.39" r="5.2"/><circle cx="386.04" cy="360.93" r="5.2"/><circle cx="359.46" cy="359.53" r="5.2"/><circle cx="64.32" cy="317.43" r="5.2"/><circle cx="368.25" cy="356.62" r="5.2"/><circle cx="257.87" cy="369.93" r="5.2"/><circle cx="308.9" cy="408.82" r="5.2"/><circle cx="291.38" cy="400.13" r="5.2"/><circle cx="387.66" cy="347.13" r="5.2"/><circle cx="328.79" cy="371.12" r="5.2"/><circle cx="529.88" cy="406.48" r="5.2"/><circle cx="400.69" cy="409.09" r="5.2"/><circle cx="280.15" cy="402.39" r="5.2"/><circle cx="354.29" cy="399.17" r="5.2"/><circle cx="311.04" cy="377.63" r="5.2"/><circle cx="344.41" cy="404.33" r="5.2"/><circle cx="234.04" cy="363.69" r="5.2"/><circle cx="359.14" cy="398.5" r="5.2"/><circle cx="301.91" cy="401.25" r="5.2"/><circle cx="289.15" cy="379.12" r="5.2"/><circle cx="292.75" cy="385.41" r="5.2"/><circle cx="136.68" cy="401.11" r="5.2"/><circle cx="422.02" cy="408.09" r="5.2"/><circle cx="444.93" cy="343.67" r="5.2"/><circle cx="268.62" cy="392.58" r="5.2"/><circle cx="287.96" cy="373.5" r="5.2"/><circle cx="368.81" cy="386.83" r="5.2"/><circle cx="323.64" cy="392.33" r="5.2"/><circle cx="183" cy="225" r="5.2"/><circle cx="148.19" cy="291.4" r="5.2"/><circle cx="255.28" cy="368.86" r="5.2"/><circle cx="307.69" cy="316.97" r="5.2"/><circle cx="311.29" cy="350.32" r="5.2"/><circle cx="406.16" cy="351.1" r="5.2"/>
</g>
<g fill="#3f8be0" fill-opacity="0.78" stroke="#2f6cb6" stroke-opacity="0.75" stroke-width="1">
<circle cx="121.4" cy="409.4" r="5.4"/><circle cx="275.3" cy="409.4" r="5.4"/><circle cx="304.9" cy="409.4" r="5.4"/><circle cx="309.8" cy="409.4" r="5.4"/><circle cx="313.2" cy="409.4" r="5.4"/><circle cx="336.7" cy="409.4" r="5.4"/><circle cx="345" cy="409.4" r="5.4"/><circle cx="418.5" cy="409.4" r="5.4"/><circle cx="433.3" cy="409.4" r="5.4"/><circle cx="437" cy="409.4" r="5.4"/><circle cx="445" cy="409.4" r="5.4"/><circle cx="460.4" cy="409.4" r="5.4"/><circle cx="470.2" cy="409.4" r="5.4"/><circle cx="474.6" cy="409.4" r="5.4"/><circle cx="478" cy="409.4" r="5.4"/><circle cx="481.3" cy="409.4" r="5.4"/><circle cx="486.2" cy="409.4" r="5.4"/><circle cx="506.7" cy="409.4" r="5.4"/><circle cx="537.2" cy="409.4" r="5.4"/>
</g>
<line x1="62" y1="260.2" x2="591" y2="260.2" stroke="#5a5a5a" stroke-width="1.5" stroke-dasharray="2.3 2.3"/>
<line x1="60.3" y1="37" x2="60.3" y2="418" stroke="#000" stroke-width="1.3" />
<line x1="59.6" y1="417.5" x2="612" y2="417.5" stroke="#000" stroke-width="1.7" />
<text x="43.5" y="46.32" font-size="21" text-anchor="middle">5</text>
<text x="43.5" y="120.72" font-size="21" text-anchor="middle">4</text>
<text x="43.5" y="194.52" font-size="21" text-anchor="middle">3</text>
<text x="43.5" y="268.92" font-size="21" text-anchor="middle">2</text>
<text x="43.5" y="342.52" font-size="21" text-anchor="middle">1</text>
<text x="43.5" y="416.52" font-size="21" text-anchor="middle">0</text>
<text x="61.3" y="442.61" font-size="20.7" text-anchor="middle">50</text>
<text x="123.84" y="442.61" font-size="20.7" text-anchor="middle">52</text>
<text x="186.38" y="442.61" font-size="20.7" text-anchor="middle">54</text>
<text x="248.92" y="442.61" font-size="20.7" text-anchor="middle">56</text>
<text x="311.46" y="442.61" font-size="20.7" text-anchor="middle">58</text>
<text x="374" y="442.61" font-size="20.7" text-anchor="middle">60</text>
<text x="436.54" y="442.61" font-size="20.7" text-anchor="middle">62</text>
<text x="499.08" y="442.61" font-size="20.7" text-anchor="middle">64</text>
<text x="561.62" y="442.61" font-size="20.7" text-anchor="middle">66</text>
<text x="336.6" y="476.07" font-size="20.3" text-anchor="middle">Stability, Tm (°C)</text>
<text font-size="20" text-anchor="middle" transform="translate(17.3 227) rotate(-90)">Predicted affinity (%rank)</text>
<rect x="69" y="46" width="376.5" height="57.3" rx="3" fill="#fff" fill-opacity="0.85" stroke="#e3e3e3" stroke-width="1"/>
<circle cx="93.5" cy="60.8" r="5.2" fill="#dbebe1" fill-opacity="0.28" stroke="#9aaba3" stroke-opacity="0.4"/>
<circle cx="93.5" cy="87.4" r="5.4" fill="#3f8be0" fill-opacity="0.78" stroke="#2f6cb6" stroke-opacity="0.75"/>
<text x="126" y="68.94" font-size="17.7" >All HLA-A*02:01 ligands, PCC = –0.28</text>
<text x="126" y="94.39" font-size="17.85" >Top 20 affinity predicted ligands</text>
<text x="416.3" y="250.8" font-size="20.1" >Low affinity binders</text>
<text x="416.3" y="285.2" font-size="20.1" >High affinity binders</text>
<clipPath id="cb"><rect x="62.3" y="490" width="570" height="389"/></clipPath>
<g clip-path="url(#cb)" fill="#dbebe1" fill-opacity="0.28" stroke="#9aaba3" stroke-opacity="0.4" stroke-width="1">
<circle cx="372.08" cy="870.4" r="5.2"/><circle cx="334.34" cy="858.48" r="5.2"/><circle cx="221.4" cy="819.97" r="5.2"/><circle cx="412.36" cy="862.65" r="5.2"/><circle cx="360.03" cy="858.3" r="5.2"/><circle cx="254.82" cy="770.36" r="5.2"/><circle cx="253.65" cy="863.56" r="5.2"/><circle cx="393.4" cy="791.17" r="5.2"/><circle cx="408.09" cy="869.9" r="5.2"/><circle cx="302.42" cy="863.83" r="5.2"/><circle cx="365.63" cy="862.32" r="5.2"/><circle cx="383.46" cy="849.54" r="5.2"/><circle cx="265.63" cy="862.87" r="5.2"/><circle cx="509.39" cy="858.13" r="5.2"/><circle cx="348.52" cy="856.78" r="5.2"/><circle cx="406.53" cy="859.99" r="5.2"/><circle cx="102.26" cy="832.87" r="5.2"/><circle cx="271.55" cy="849.29" r="5.2"/><circle cx="301.82" cy="866.09" r="5.2"/><circle cx="494.7" cy="850.26" r="5.2"/><circle cx="350.99" cy="856.06" r="5.2"/><circle cx="419.07" cy="863.25" r="5.2"/><circle cx="298.54" cy="836.29" r="5.2"/><circle cx="330.48" cy="854.49" r="5.2"/><circle cx="372" cy="866.07" r="5.2"/><circle cx="403.55" cy="784.57" r="5.2"/><circle cx="478.71" cy="865.42" r="5.2"/><circle cx="410.98" cy="864.24" r="5.2"/><circle cx="163.83" cy="834.49" r="5.2"/><circle cx="360.41" cy="701.83" r="5.2"/><circle cx="372.77" cy="865.77" r="5.2"/><circle cx="487.63" cy="864.67" r="5.2"/><circle cx="413.71" cy="755.63" r="5.2"/><circle cx="371.18" cy="856.54" r="5.2"/><circle cx="319.32" cy="857.73" r="5.2"/><circle cx="240.1" cy="856.76" r="5.2"/><circle cx="230.78" cy="867.74" r="5.2"/><circle cx="355.03" cy="862.47" r="5.2"/><circle cx="305.8" cy="841.27" r="5.2"/><circle cx="289.63" cy="861.87" r="5.2"/><circle cx="412.79" cy="866.48" r="5.2"/><circle cx="172.35" cy="853.04" r="5.2"/><circle cx="319.82" cy="859.61" r="5.2"/><circle cx="258.24" cy="858.31" r="5.2"/><circle cx="362.3" cy="869.29" r="5.2"/><circle cx="296.78" cy="864.63" r="5.2"/><circle cx="588.98" cy="864.48" r="5.2"/><circle cx="479.83" cy="860.38" r="5.2"/><circle cx="384.68" cy="863.53" r="5.2"/><circle cx="394.11" cy="833.14" r="5.2"/><circle cx="187.72" cy="866.31" r="5.2"/><circle cx="298.87" cy="838.59" r="5.2"/><circle cx="520.68" cy="861.99" r="5.2"/><circle cx="286.42" cy="844.54" r="5.2"/><circle cx="322" cy="867.96" r="5.2"/><circle cx="337.81" cy="852.26" r="5.2"/><circle cx="367.37" cy="846" r="5.2"/><circle cx="360.71" cy="856.29" r="5.2"/><circle cx="407.58" cy="863.53" r="5.2"/><circle cx="333.84" cy="863.29" r="5.2"/><circle cx="415.07" cy="862.94" r="5.2"/><circle cx="165.22" cy="865.88" r="5.2"/><circle cx="423" cy="862.59" r="5.2"/><circle cx="150.77" cy="838.76" r="5.2"/><circle cx="272.87" cy="856.52" r="5.2"/><circle cx="283.52" cy="865" r="5.2"/><circle cx="345.47" cy="864.23" r="5.2"/><circle cx="513.79" cy="837.46" r="5.2"/><circle cx="373.22" cy="854.93" r="5.2"/><circle cx="322.99" cy="847.29" r="5.2"/><circle cx="388.23" cy="821.25" r="5.2"/><circle cx="265.28" cy="868.78" r="5.2"/><circle cx="503.33" cy="831.81" r="5.2"/><circle cx="311.72" cy="866.85" r="5.2"/><circle cx="402.33" cy="869.38" r="5.2"/><circle cx="373.2" cy="859.81" r="5.2"/><circle cx="221.87" cy="861.19" r="5.2"/><circle cx="347.56" cy="866.55" r="5.2"/><circle cx="262.59" cy="847.78" r="5.2"/><circle cx="467.18" cy="857.19" r="5.2"/><circle cx="364.6" cy="865.7" r="5.2"/><circle cx="427.92" cy="798.78" r="5.2"/><circle cx="375.66" cy="868.88" r="5.2"/><circle cx="420.5" cy="819.16" r="5.2"/><circle cx="162.38" cy="833.61" r="5.2"/><circle cx="469.54" cy="788.12" r="5.2"/><circle cx="399.09" cy="852.17" r="5.2"/><circle cx="372.72" cy="839.99" r="5.2"/><circle cx="225.68" cy="841.78" r="5.2"/><circle cx="293.85" cy="813.4" r="5.2"/><circle cx="284.38" cy="865.05" r="5.2"/><circle cx="440.55" cy="852.39" r="5.2"/><circle cx="435.91" cy="867.22" r="5.2"/><circle cx="301.66" cy="867.9" r="5.2"/><circle cx="462.84" cy="852.28" r="5.2"/><circle cx="325.66" cy="865.18" r="5.2"/><circle cx="369.93" cy="868.51" r="5.2"/><circle cx="346.64" cy="868.34" r="5.2"/><circle cx="237.9" cy="865.18" r="5.2"/><circle cx="386.07" cy="867.81" r="5.2"/><circle cx="364.87" cy="850.64" r="5.2"/><circle cx="304.61" cy="839.75" r="5.2"/><circle cx="291.57" cy="867.29" r="5.2"/><circle cx="272.64" cy="856.77" r="5.2"/><circle cx="356.35" cy="799.8" r="5.2"/><circle cx="363.5" cy="846.08" r="5.2"/><circle cx="269.53" cy="823.58" r="5.2"/><circle cx="454" cy="851.2" r="5.2"/><circle cx="323.56" cy="860.34" r="5.2"/><circle cx="166.72" cy="839" r="5.2"/><circle cx="78.87" cy="869.97" r="5.2"/><circle cx="429.14" cy="867.64" r="5.2"/><circle cx="169.57" cy="855.15" r="5.2"/><circle cx="158.68" cy="825.77" r="5.2"/><circle cx="321.43" cy="852.79" r="5.2"/><circle cx="457.56" cy="816.99" r="5.2"/><circle cx="250.48" cy="854.94" r="5.2"/><circle cx="279.53" cy="848.6" r="5.2"/><circle cx="461.29" cy="823.4" r="5.2"/><circle cx="213.53" cy="863.8" r="5.2"/><circle cx="327.07" cy="866.62" r="5.2"/><circle cx="182.27" cy="861.1" r="5.2"/><circle cx="257.69" cy="819.32" r="5.2"/><circle cx="335.15" cy="849.55" r="5.2"/><circle cx="377.2" cy="854.58" r="5.2"/><circle cx="457.11" cy="867.82" r="5.2"/><circle cx="446.7" cy="704.87" r="5.2"/><circle cx="118.2" cy="867.31" r="5.2"/><circle cx="276.2" cy="843.1" r="5.2"/><circle cx="431.92" cy="861.94" r="5.2"/><circle cx="194.13" cy="858.57" r="5.2"/><circle cx="248.88" cy="867.9" r="5.2"/><circle cx="317.78" cy="857.45" r="5.2"/><circle cx="335.2" cy="863.45" r="5.2"/><circle cx="72.75" cy="858.56" r="5.2"/><circle cx="367.47" cy="832.69" r="5.2"/><circle cx="219.87" cy="866.49" r="5.2"/><circle cx="181.99" cy="859.16" r="5.2"/><circle cx="287.53" cy="814.19" r="5.2"/><circle cx="254.64" cy="862.67" r="5.2"/><circle cx="261.4" cy="864.56" r="5.2"/><circle cx="434.01" cy="846.69" r="5.2"/><circle cx="296.91" cy="853.91" r="5.2"/><circle cx="249.1" cy="861.91" r="5.2"/><circle cx="356.62" cy="869.66" r="5.2"/><circle cx="450.14" cy="851.02" r="5.2"/><circle cx="346.54" cy="862.57" r="5.2"/><circle cx="303.36" cy="837.03" r="5.2"/><circle cx="243.51" cy="866.3" r="5.2"/><circle cx="118.76" cy="869.9" r="5.2"/><circle cx="234.38" cy="857.54" r="5.2"/><circle cx="141.12" cy="816.04" r="5.2"/><circle cx="62.49" cy="854.77" r="5.2"/><circle cx="195.02" cy="862.24" r="5.2"/><circle cx="450.1" cy="865.55" r="5.2"/><circle cx="225.4" cy="859.54" r="5.2"/><circle cx="323.22" cy="867.73" r="5.2"/><circle cx="356.9" cy="856.07" r="5.2"/><circle cx="362.94" cy="747.51" r="5.2"/><circle cx="213.58" cy="866.14" r="5.2"/><circle cx="357.92" cy="862.3" r="5.2"/><circle cx="276.21" cy="857.34" r="5.2"/><circle cx="238.93" cy="868.28" r="5.2"/><circle cx="357.32" cy="857.43" r="5.2"/><circle cx="449.06" cy="834.62" r="5.2"/><circle cx="281.48" cy="867.86" r="5.2"/><circle cx="328.43" cy="799.8" r="5.2"/><circle cx="168.57" cy="855.73" r="5.2"/><circle cx="169.4" cy="865.34" r="5.2"/><circle cx="434.18" cy="839.07" r="5.2"/><circle cx="484.35" cy="820.56" r="5.2"/><circle cx="387.14" cy="857.62" r="5.2"/><circle cx="103.35" cy="855.97" r="5.2"/><circle cx="460.53" cy="792.49" r="5.2"/><circle cx="508.56" cy="844.21" r="5.2"/><circle cx="431.64" cy="851.92" r="5.2"/><circle cx="408.63" cy="717.06" r="5.2"/><circle cx="233.83" cy="866.69" r="5.2"/><circle cx="442.65" cy="864.23" r="5.2"/><circle cx="285.51" cy="820.95" r="5.2"/><circle cx="210.98" cy="869.28" r="5.2"/><circle cx="395.55" cy="850.33" r="5.2"/><circle cx="312" cy="862.33" r="5.2"/><circle cx="197.99" cy="846.51" r="5.2"/><circle cx="292.2" cy="863.73" r="5.2"/><circle cx="237.78" cy="869.28" r="5.2"/><circle cx="373.45" cy="866.89" r="5.2"/><circle cx="221.37" cy="865.93" r="5.2"/><circle cx="361.64" cy="866.45" r="5.2"/><circle cx="258.34" cy="857.29" r="5.2"/><circle cx="305.13" cy="860.82" r="5.2"/><circle cx="312.43" cy="864.06" r="5.2"/><circle cx="492.21" cy="803.19" r="5.2"/><circle cx="413.14" cy="852.92" r="5.2"/><circle cx="142.9" cy="855.67" r="5.2"/><circle cx="373.05" cy="859.81" r="5.2"/><circle cx="335.88" cy="844.01" r="5.2"/><circle cx="258.15" cy="862.18" r="5.2"/><circle cx="372.68" cy="860.18" r="5.2"/><circle cx="224.87" cy="852.76" r="5.2"/><circle cx="168.35" cy="863.54" r="5.2"/><circle cx="346.8" cy="829.59" r="5.2"/><circle cx="348.81" cy="850.73" r="5.2"/><circle cx="461.71" cy="838.57" r="5.2"/><circle cx="345.91" cy="838.92" r="5.2"/><circle cx="362.78" cy="853.87" r="5.2"/><circle cx="378.65" cy="850.83" r="5.2"/><circle cx="188.65" cy="863.92" r="5.2"/><circle cx="206.08" cy="849.36" r="5.2"/><circle cx="204.05" cy="853.62" r="5.2"/><circle cx="304.79" cy="865.22" r="5.2"/><circle cx="345.82" cy="862.69" r="5.2"/><circle cx="406.67" cy="868.65" r="5.2"/><circle cx="452.15" cy="860.82" r="5.2"/><circle cx="364.7" cy="851.45" r="5.2"/><circle cx="382.75" cy="868.99" r="5.2"/><circle cx="236.45" cy="852.1" r="5.2"/><circle cx="276.65" cy="591.68" r="5.2"/><circle cx="266.58" cy="824.85" r="5.2"/><circle cx="355.18" cy="842.39" r="5.2"/><circle cx="299.07" cy="845.15" r="5.2"/><circle cx="371.04" cy="865.35" r="5.2"/><circle cx="416.57" cy="848.17" r="5.2"/><circle cx="513.52" cy="861.76" r="5.2"/><circle cx="268.56" cy="870.39" r="5.2"/><circle cx="356.75" cy="841.5" r="5.2"/><circle cx="348.59" cy="846.55" r="5.2"/><circle cx="511.56" cy="868.42" r="5.2"/><circle cx="342.52" cy="853.72" r="5.2"/><circle cx="483.25" cy="756.65" r="5.2"/><circle cx="395.52" cy="857.9" r="5.2"/><circle cx="270.01" cy="863.46" r="5.2"/><circle cx="340.11" cy="851.04" r="5.2"/><circle cx="341.99" cy="829.4" r="5.2"/><circle cx="344.41" cy="850.29" r="5.2"/><circle cx="271.57" cy="853.07" r="5.2"/><circle cx="201.51" cy="864.33" r="5.2"/><circle cx="178.79" cy="869.7" r="5.2"/><circle cx="210.08" cy="865.13" r="5.2"/><circle cx="215.54" cy="857.1" r="5.2"/><circle cx="341.28" cy="869.6" r="5.2"/><circle cx="282.74" cy="740.41" r="5.2"/><circle cx="441.11" cy="861.35" r="5.2"/><circle cx="463.23" cy="869.74" r="5.2"/><circle cx="304.29" cy="848.88" r="5.2"/><circle cx="442.17" cy="862.12" r="5.2"/><circle cx="319.34" cy="869.91" r="5.2"/><circle cx="477.51" cy="829.72" r="5.2"/><circle cx="246.74" cy="867.95" r="5.2"/><circle cx="375.25" cy="869.1" r="5.2"/><circle cx="381.94" cy="863.34" r="5.2"/><circle cx="196.67" cy="863.51" r="5.2"/><circle cx="327.38" cy="856.85" r="5.2"/><circle cx="304.38" cy="829.35" r="5.2"/><circle cx="457.87" cy="761.73" r="5.2"/><circle cx="433.31" cy="855.16" r="5.2"/><circle cx="347.64" cy="856.48" r="5.2"/><circle cx="452.77" cy="866.47" r="5.2"/><circle cx="258.95" cy="837.25" r="5.2"/><circle cx="377.05" cy="859.73" r="5.2"/><circle cx="213.07" cy="861.16" r="5.2"/><circle cx="563.9" cy="861.52" r="5.2"/><circle cx="235.11" cy="844.27" r="5.2"/><circle cx="286.98" cy="856.08" r="5.2"/><circle cx="328.93" cy="665.28" r="5.2"/><circle cx="273.19" cy="858.27" r="5.2"/><circle cx="354.54" cy="833.87" r="5.2"/><circle cx="191.06" cy="868.85" r="5.2"/><circle cx="328.95" cy="859.64" r="5.2"/><circle cx="293.4" cy="803.86" r="5.2"/><circle cx="285.31" cy="853.76" r="5.2"/><circle cx="263.81" cy="830.12" r="5.2"/><circle cx="327.41" cy="789.64" r="5.2"/><circle cx="412" cy="858.05" r="5.2"/><circle cx="292.46" cy="806.65" r="5.2"/><circle cx="395.89" cy="865.18" r="5.2"/><circle cx="449.24" cy="802.34" r="5.2"/><circle cx="260.02" cy="822.85" r="5.2"/><circle cx="314.13" cy="869.69" r="5.2"/><circle cx="322.64" cy="868.39" r="5.2"/><circle cx="446.7" cy="751.57" r="5.2"/><circle cx="462.23" cy="858.4" r="5.2"/><circle cx="513.59" cy="840.21" r="5.2"/><circle cx="413.97" cy="857.63" r="5.2"/><circle cx="324.59" cy="839.46" r="5.2"/><circle cx="289.78" cy="864.66" r="5.2"/><circle cx="287.52" cy="861.67" r="5.2"/><circle cx="211.61" cy="856.99" r="5.2"/><circle cx="509.27" cy="856.94" r="5.2"/><circle cx="489.43" cy="836.28" r="5.2"/><circle cx="461.99" cy="859.65" r="5.2"/><circle cx="317.23" cy="859.59" r="5.2"/><circle cx="274.13" cy="828.03" r="5.2"/><circle cx="378.17" cy="767.82" r="5.2"/><circle cx="364.57" cy="862" r="5.2"/><circle cx="367.12" cy="869.88" r="5.2"/><circle cx="298.47" cy="865.36" r="5.2"/><circle cx="364.91" cy="868.23" r="5.2"/><circle cx="294.56" cy="861.64" r="5.2"/><circle cx="407.86" cy="870.02" r="5.2"/><circle cx="306.6" cy="867.42" r="5.2"/><circle cx="431.25" cy="867.95" r="5.2"/><circle cx="266.75" cy="867.65" r="5.2"/><circle cx="346.93" cy="817.75" r="5.2"/><circle cx="486.28" cy="840.47" r="5.2"/><circle cx="506.32" cy="841.38" r="5.2"/><circle cx="324.91" cy="867.86" r="5.2"/><circle cx="351.82" cy="862.86" r="5.2"/><circle cx="332.72" cy="844.98" r="5.2"/><circle cx="175.03" cy="843.12" r="5.2"/><circle cx="219.29" cy="809.95" r="5.2"/><circle cx="328.69" cy="856.56" r="5.2"/><circle cx="357.75" cy="864.31" r="5.2"/><circle cx="291.05" cy="870.28" r="5.2"/><circle cx="202.77" cy="858.71" r="5.2"/><circle cx="217.21" cy="829" r="5.2"/><circle cx="420.81" cy="866.59" r="5.2"/><circle cx="337.13" cy="850.47" r="5.2"/><circle cx="208.8" cy="856.03" r="5.2"/><circle cx="322.72" cy="848.52" r="5.2"/><circle cx="527.8" cy="831.5" r="5.2"/><circle cx="148.66" cy="827.13" r="5.2"/><circle cx="112.69" cy="786.09" r="5.2"/><circle cx="338.8" cy="855.31" r="5.2"/><circle cx="381.73" cy="775.94" r="5.2"/><circle cx="418.24" cy="866.98" r="5.2"/><circle cx="340.85" cy="865.61" r="5.2"/><circle cx="110.65" cy="856.95" r="5.2"/><circle cx="110.47" cy="866.52" r="5.2"/><circle cx="188.22" cy="863.86" r="5.2"/><circle cx="521.12" cy="869.67" r="5.2"/><circle cx="262.87" cy="818.44" r="5.2"/><circle cx="386.88" cy="864.79" r="5.2"/><circle cx="342.81" cy="863.4" r="5.2"/><circle cx="305.51" cy="846.66" r="5.2"/><circle cx="381.68" cy="857.78" r="5.2"/><circle cx="294.53" cy="850.29" r="5.2"/><circle cx="476.37" cy="855.31" r="5.2"/><circle cx="142.94" cy="846.26" r="5.2"/><circle cx="297.55" cy="870.27" r="5.2"/><circle cx="318.12" cy="866.5" r="5.2"/><circle cx="392.56" cy="864.92" r="5.2"/><circle cx="392.96" cy="859.51" r="5.2"/><circle cx="330.45" cy="840.96" r="5.2"/><circle cx="357.56" cy="848.95" r="5.2"/><circle cx="356.61" cy="864.92" r="5.2"/><circle cx="124.07" cy="868.32" r="5.2"/><circle cx="188.94" cy="866.41" r="5.2"/><circle cx="206.76" cy="844.95" r="5.2"/><circle cx="412.81" cy="786.13" r="5.2"/><circle cx="408.51" cy="826.22" r="5.2"/><circle cx="339.19" cy="865.18" r="5.2"/><circle cx="366" cy="850.9" r="5.2"/><circle cx="170.51" cy="819.11" r="5.2"/><circle cx="172.06" cy="854.07" r="5.2"/><circle cx="294.86" cy="839.17" r="5.2"/><circle cx="273.04" cy="866.71" r="5.2"/><circle cx="274.91" cy="833.91" r="5.2"/><circle cx="267.63" cy="868.28" r="5.2"/><circle cx="350.46" cy="866.01" r="5.2"/><circle cx="195.05" cy="834.97" r="5.2"/><circle cx="483.59" cy="843.7" r="5.2"/><circle cx="293.55" cy="865.84" r="5.2"/><circle cx="182.42" cy="868.2" r="5.2"/><circle cx="417.82" cy="869.96" r="5.2"/><circle cx="408.14" cy="860.28" r="5.2"/><circle cx="302.45" cy="861.81" r="5.2"/><circle cx="258.55" cy="857.97" r="5.2"/><circle cx="293.96" cy="869.3" r="5.2"/><circle cx="361.29" cy="869.83" r="5.2"/><circle cx="247.12" cy="840.07" r="5.2"/><circle cx="315.78" cy="865.2" r="5.2"/><circle cx="383.17" cy="860.99" r="5.2"/><circle cx="96.68" cy="860.27" r="5.2"/><circle cx="453.27" cy="824.47" r="5.2"/><circle cx="301.62" cy="842.21" r="5.2"/><circle cx="364.83" cy="845.67" r="5.2"/><circle cx="355.58" cy="867.63" r="5.2"/><circle cx="423.65" cy="825.63" r="5.2"/><circle cx="378.01" cy="840.61" r="5.2"/><circle cx="285.49" cy="861.85" r="5.2"/><circle cx="91.02" cy="836.49" r="5.2"/><circle cx="358.77" cy="851.1" r="5.2"/><circle cx="264.11" cy="860.23" r="5.2"/><circle cx="302.45" cy="867.55" r="5.2"/><circle cx="318.99" cy="824.74" r="5.2"/><circle cx="192.23" cy="864.44" r="5.2"/><circle cx="368.4" cy="859.88" r="5.2"/><circle cx="407.92" cy="854.93" r="5.2"/><circle cx="274.86" cy="868.5" r="5.2"/><circle cx="268.91" cy="844.55" r="5.2"/><circle cx="495.89" cy="818.17" r="5.2"/><circle cx="186.61" cy="827.5" r="5.2"/><circle cx="144.81" cy="864.73" r="5.2"/><circle cx="404.57" cy="855.68" r="5.2"/><circle cx="310.23" cy="857.94" r="5.2"/><circle cx="343.21" cy="825.8" r="5.2"/><circle cx="130.41" cy="865.94" r="5.2"/><circle cx="339.67" cy="864.28" r="5.2"/><circle cx="389.15" cy="846.25" r="5.2"/><circle cx="142.44" cy="856.56" r="5.2"/><circle cx="328.6" cy="867.04" r="5.2"/><circle cx="408.04" cy="831.03" r="5.2"/><circle cx="283.65" cy="857.29" r="5.2"/><circle cx="79.89" cy="864.08" r="5.2"/><circle cx="119.02" cy="859.53" r="5.2"/><circle cx="274.41" cy="869.24" r="5.2"/><circle cx="340.25" cy="866.42" r="5.2"/><circle cx="183.21" cy="866.87" r="5.2"/><circle cx="423.8" cy="858.08" r="5.2"/><circle cx="321.28" cy="867.26" r="5.2"/><circle cx="576.44" cy="868.92" r="5.2"/><circle cx="284.4" cy="836.26" r="5.2"/><circle cx="284.06" cy="865.27" r="5.2"/><circle cx="434.28" cy="853.73" r="5.2"/><circle cx="446.85" cy="850.22" r="5.2"/><circle cx="482.1" cy="845.46" r="5.2"/><circle cx="199.67" cy="853.84" r="5.2"/><circle cx="482.91" cy="863.15" r="5.2"/><circle cx="425.72" cy="867.46" r="5.2"/><circle cx="135.09" cy="827.14" r="5.2"/><circle cx="289.85" cy="854.73" r="5.2"/><circle cx="379.31" cy="848.32" r="5.2"/><circle cx="420.1" cy="861.61" r="5.2"/><circle cx="314.88" cy="840.39" r="5.2"/><circle cx="354.64" cy="819.63" r="5.2"/><circle cx="286.87" cy="870.18" r="5.2"/><circle cx="364.63" cy="856.37" r="5.2"/><circle cx="340.55" cy="828.77" r="5.2"/><circle cx="362.55" cy="862.11" r="5.2"/><circle cx="302.05" cy="822.88" r="5.2"/><circle cx="156.73" cy="866.05" r="5.2"/><circle cx="139.8" cy="863.27" r="5.2"/><circle cx="197.97" cy="797.26" r="5.2"/><circle cx="184.65" cy="867.24" r="5.2"/><circle cx="111.78" cy="853.24" r="5.2"/><circle cx="440.64" cy="858.12" r="5.2"/><circle cx="299.94" cy="847.12" r="5.2"/><circle cx="354.68" cy="867.78" r="5.2"/><circle cx="368.35" cy="867.72" r="5.2"/><circle cx="337" cy="825.5" r="5.2"/><circle cx="226.74" cy="842.35" r="5.2"/><circle cx="166.3" cy="851.28" r="5.2"/><circle cx="368.06" cy="858.96" r="5.2"/><circle cx="472.08" cy="801.32" r="5.2"/><circle cx="418.34" cy="869.34" r="5.2"/><circle cx="417.46" cy="870.34" r="5.2"/><circle cx="430.46" cy="845.62" r="5.2"/><circle cx="296.13" cy="869.56" r="5.2"/><circle cx="354.51" cy="840.96" r="5.2"/><circle cx="365.37" cy="868.65" r="5.2"/><circle cx="473.51" cy="851.89" r="5.2"/><circle cx="384.4" cy="820.86" r="5.2"/><circle cx="284.05" cy="819.63" r="5.2"/><circle cx="331.96" cy="855.33" r="5.2"/><circle cx="551.36" cy="866.7" r="5.2"/><circle cx="377.86" cy="854.97" r="5.2"/><circle cx="485.27" cy="859.15" r="5.2"/><circle cx="194.07" cy="844.41" r="5.2"/><circle cx="205.33" cy="869.78" r="5.2"/><circle cx="448.84" cy="861.83" r="5.2"/><circle cx="362.02" cy="850.12" r="5.2"/><circle cx="195.7" cy="869.3" r="5.2"/><circle cx="305.34" cy="823.76" r="5.2"/><circle cx="445.11" cy="859.4" r="5.2"/><circle cx="298.95" cy="869.15" r="5.2"/><circle cx="161.73" cy="861.89" r="5.2"/><circle cx="268.75" cy="828.27" r="5.2"/><circle cx="425.2" cy="869.03" r="5.2"/><circle cx="161.55" cy="865.42" r="5.2"/><circle cx="357.29" cy="852.63" r="5.2"/><circle cx="270.35" cy="813.97" r="5.2"/><circle cx="253.29" cy="843.38" r="5.2"/><circle cx="333.83" cy="869.38" r="5.2"/><circle cx="164.59" cy="863.42" r="5.2"/><circle cx="384.58" cy="865.46" r="5.2"/><circle cx="273.53" cy="869.7" r="5.2"/><circle cx="340.24" cy="843.78" r="5.2"/><circle cx="396.09" cy="814.4" r="5.2"/><circle cx="158.7" cy="867.09" r="5.2"/><circle cx="327.27" cy="865.34" r="5.2"/><circle cx="279.81" cy="841.2" r="5.2"/><circle cx="397.8" cy="859.74" r="5.2"/><circle cx="325.64" cy="857.62" r="5.2"/><circle cx="418.07" cy="863.42" r="5.2"/><circle cx="430.02" cy="847.38" r="5.2"/><circle cx="278.69" cy="853.94" r="5.2"/><circle cx="92.14" cy="864.15" r="5.2"/><circle cx="313.72" cy="842.15" r="5.2"/><circle cx="243.65" cy="801.32" r="5.2"/><circle cx="203.26" cy="852.57" r="5.2"/><circle cx="475.52" cy="837.47" r="5.2"/><circle cx="278.3" cy="861.28" r="5.2"/><circle cx="454.39" cy="868.53" r="5.2"/><circle cx="376.35" cy="870.25" r="5.2"/><circle cx="332.55" cy="852.32" r="5.2"/><circle cx="251.68" cy="835.08" r="5.2"/><circle cx="316.67" cy="860.6" r="5.2"/><circle cx="316.07" cy="868.38" r="5.2"/><circle cx="386.26" cy="859.11" r="5.2"/><circle cx="292.26" cy="853.04" r="5.2"/><circle cx="403.2" cy="868.45" r="5.2"/><circle cx="264.95" cy="860.48" r="5.2"/><circle cx="432.36" cy="845.77" r="5.2"/><circle cx="176.06" cy="868.47" r="5.2"/><circle cx="361.96" cy="820.44" r="5.2"/><circle cx="388.76" cy="845.47" r="5.2"/><circle cx="415.07" cy="868.44" r="5.2"/><circle cx="218.26" cy="840.93" r="5.2"/><circle cx="514.02" cy="863.01" r="5.2"/><circle cx="381.45" cy="832.67" r="5.2"/><circle cx="259.52" cy="860.47" r="5.2"/><circle cx="161.13" cy="863.87" r="5.2"/><circle cx="396.75" cy="867.8" r="5.2"/><circle cx="348.47" cy="865.27" r="5.2"/><circle cx="275.09" cy="863.01" r="5.2"/><circle cx="107.69" cy="855.12" r="5.2"/><circle cx="343.6" cy="868.71" r="5.2"/><circle cx="415.84" cy="864.31" r="5.2"/><circle cx="410.2" cy="855.88" r="5.2"/><circle cx="325.83" cy="855.59" r="5.2"/><circle cx="94.58" cy="849.84" r="5.2"/><circle cx="382.62" cy="857.08" r="5.2"/><circle cx="385.36" cy="864.56" r="5.2"/><circle cx="377.79" cy="831.75" r="5.2"/><circle cx="390.62" cy="868.53" r="5.2"/><circle cx="425.24" cy="864.68" r="5.2"/><circle cx="419.94" cy="811.68" r="5.2"/><circle cx="327.61" cy="869.92" r="5.2"/><circle cx="346.97" cy="856.1" r="5.2"/><circle cx="276.97" cy="854.71" r="5.2"/><circle cx="91.74" cy="865.62" r="5.2"/><circle cx="163.81" cy="867.54" r="5.2"/><circle cx="302.74" cy="858.82" r="5.2"/><circle cx="236.04" cy="633.3" r="5.2"/><circle cx="422.91" cy="867.5" r="5.2"/><circle cx="444.67" cy="825.38" r="5.2"/><circle cx="529.42" cy="855.6" r="5.2"/><circle cx="192.85" cy="844.15" r="5.2"/><circle cx="483.94" cy="860.38" r="5.2"/><circle cx="472.21" cy="868.83" r="5.2"/><circle cx="304.2" cy="861.43" r="5.2"/><circle cx="224.03" cy="837.54" r="5.2"/><circle cx="451.21" cy="865.41" r="5.2"/><circle cx="391.24" cy="829.3" r="5.2"/><circle cx="85.6" cy="870.24" r="5.2"/><circle cx="346.74" cy="849.91" r="5.2"/><circle cx="323.22" cy="867.62" r="5.2"/><circle cx="309.59" cy="856.78" r="5.2"/><circle cx="277.11" cy="863.46" r="5.2"/><circle cx="175.12" cy="860.33" r="5.2"/><circle cx="286.3" cy="856.69" r="5.2"/><circle cx="381.39" cy="862" r="5.2"/><circle cx="249.95" cy="817.41" r="5.2"/><circle cx="258.69" cy="869.5" r="5.2"/><circle cx="391.16" cy="854.96" r="5.2"/><circle cx="284.32" cy="867.81" r="5.2"/><circle cx="71.37" cy="869.78" r="5.2"/><circle cx="243.57" cy="867.14" r="5.2"/><circle cx="381.15" cy="869.99" r="5.2"/><circle cx="137.49" cy="845.04" r="5.2"/><circle cx="210.45" cy="869.36" r="5.2"/><circle cx="467.57" cy="856.25" r="5.2"/><circle cx="501.3" cy="857.12" r="5.2"/><circle cx="225.41" cy="844.06" r="5.2"/><circle cx="367.71" cy="859.08" r="5.2"/><circle cx="296.35" cy="848.47" r="5.2"/><circle cx="263.63" cy="833.98" r="5.2"/><circle cx="507.67" cy="864.18" r="5.2"/><circle cx="282.12" cy="869.39" r="5.2"/><circle cx="389.17" cy="857.06" r="5.2"/><circle cx="339.76" cy="858.45" r="5.2"/><circle cx="434.77" cy="868.65" r="5.2"/><circle cx="396.73" cy="828.78" r="5.2"/><circle cx="363.04" cy="868.48" r="5.2"/><circle cx="162.87" cy="867.67" r="5.2"/><circle cx="209.21" cy="869.33" r="5.2"/><circle cx="113.91" cy="869.51" r="5.2"/><circle cx="470.82" cy="858.98" r="5.2"/><circle cx="286.85" cy="861.81" r="5.2"/><circle cx="167.51" cy="869.76" r="5.2"/><circle cx="322.26" cy="853.51" r="5.2"/><circle cx="353.56" cy="851.6" r="5.2"/><circle cx="202.81" cy="867.24" r="5.2"/><circle cx="288.75" cy="850.9" r="5.2"/><circle cx="427.17" cy="847.34" r="5.2"/><circle cx="353.34" cy="852.41" r="5.2"/><circle cx="234.58" cy="862.36" r="5.2"/><circle cx="308.63" cy="775.94" r="5.2"/><circle cx="209.81" cy="832.22" r="5.2"/><circle cx="221.32" cy="854.37" r="5.2"/><circle cx="462.4" cy="843.09" r="5.2"/><circle cx="130.99" cy="842.84" r="5.2"/><circle cx="247.22" cy="856.2" r="5.2"/><circle cx="311.33" cy="843.66" r="5.2"/><circle cx="404.29" cy="857.01" r="5.2"/><circle cx="372.35" cy="869.69" r="5.2"/><circle cx="293.86" cy="833.64" r="5.2"/><circle cx="255.6" cy="846.05" r="5.2"/><circle cx="394.51" cy="861.59" r="5.2"/><circle cx="406.85" cy="848.1" r="5.2"/><circle cx="358.32" cy="870.31" r="5.2"/><circle cx="398.2" cy="867.61" r="5.2"/><circle cx="236.3" cy="846.27" r="5.2"/><circle cx="366.41" cy="866.9" r="5.2"/><circle cx="256.91" cy="860.96" r="5.2"/><circle cx="291.88" cy="786.09" r="5.2"/><circle cx="344.59" cy="857.15" r="5.2"/><circle cx="268.66" cy="865.32" r="5.2"/><circle cx="223.8" cy="868.51" r="5.2"/><circle cx="338" cy="860.24" r="5.2"/><circle cx="231.94" cy="825.03" r="5.2"/><circle cx="256.67" cy="867.18" r="5.2"/><circle cx="229.44" cy="765.79" r="5.2"/><circle cx="244.81" cy="865.94" r="5.2"/><circle cx="257.79" cy="864.22" r="5.2"/><circle cx="279.27" cy="867.3" r="5.2"/><circle cx="414.36" cy="834.4" r="5.2"/><circle cx="258.89" cy="854.1" r="5.2"/><circle cx="327.17" cy="869.07" r="5.2"/><circle cx="259.75" cy="808.45" r="5.2"/><circle cx="192.9" cy="865.57" r="5.2"/><circle cx="447.88" cy="845.89" r="5.2"/><circle cx="480.73" cy="867.99" r="5.2"/><circle cx="481.7" cy="847.44" r="5.2"/><circle cx="327.2" cy="848.17" r="5.2"/><circle cx="382.51" cy="868.23" r="5.2"/><circle cx="294.68" cy="852.08" r="5.2"/><circle cx="410.19" cy="865.73" r="5.2"/><circle cx="183.71" cy="857.7" r="5.2"/><circle cx="393.4" cy="704.87" r="5.2"/><circle cx="192.46" cy="851.92" r="5.2"/><circle cx="324.8" cy="847.29" r="5.2"/><circle cx="189.71" cy="868.43" r="5.2"/><circle cx="370.24" cy="846.75" r="5.2"/><circle cx="246.02" cy="861.24" r="5.2"/><circle cx="318.35" cy="855.73" r="5.2"/><circle cx="480.71" cy="859.25" r="5.2"/><circle cx="152.92" cy="861.75" r="5.2"/><circle cx="306.48" cy="846.2" r="5.2"/><circle cx="402.05" cy="860.31" r="5.2"/><circle cx="208.1" cy="868.69" r="5.2"/><circle cx="434.15" cy="869.8" r="5.2"/><circle cx="362.72" cy="864.32" r="5.2"/><circle cx="314.27" cy="850.81" r="5.2"/><circle cx="218.23" cy="854.53" r="5.2"/><circle cx="431.94" cy="859.79" r="5.2"/><circle cx="323.25" cy="868.52" r="5.2"/><circle cx="381.83" cy="858.83" r="5.2"/><circle cx="369.62" cy="852.61" r="5.2"/><circle cx="397.51" cy="828.04" r="5.2"/><circle cx="167.17" cy="814.32" r="5.2"/><circle cx="431.66" cy="827.3" r="5.2"/><circle cx="188.47" cy="829.31" r="5.2"/><circle cx="447.93" cy="869.45" r="5.2"/><circle cx="401.67" cy="850.41" r="5.2"/><circle cx="263.57" cy="851.4" r="5.2"/><circle cx="277.13" cy="859.28" r="5.2"/><circle cx="467.27" cy="868.57" r="5.2"/><circle cx="298.04" cy="867.12" r="5.2"/><circle cx="582.71" cy="845.98" r="5.2"/><circle cx="532.55" cy="866.7" r="5.2"/><circle cx="290.47" cy="852.53" r="5.2"/><circle cx="349.19" cy="859.71" r="5.2"/><circle cx="107.61" cy="869.62" r="5.2"/><circle cx="356.64" cy="862.8" r="5.2"/><circle cx="303.55" cy="779.49" r="5.2"/><circle cx="328.42" cy="858.95" r="5.2"/><circle cx="373.32" cy="838.79" r="5.2"/><circle cx="165.46" cy="869.61" r="5.2"/><circle cx="389.52" cy="870.35" r="5.2"/><circle cx="68.06" cy="863.26" r="5.2"/><circle cx="364.63" cy="837.44" r="5.2"/><circle cx="339.18" cy="840.14" r="5.2"/><circle cx="338.88" cy="858.11" r="5.2"/><circle cx="356.04" cy="862.88" r="5.2"/><circle cx="219.47" cy="868.57" r="5.2"/><circle cx="219.59" cy="868.9" r="5.2"/><circle cx="334.27" cy="846.05" r="5.2"/><circle cx="306.16" cy="863.58" r="5.2"/><circle cx="376.99" cy="868.8" r="5.2"/><circle cx="459.61" cy="856.95" r="5.2"/><circle cx="389.02" cy="842.4" r="5.2"/><circle cx="446.03" cy="855.69" r="5.2"/><circle cx="446.95" cy="817.52" r="5.2"/><circle cx="229.97" cy="866.53" r="5.2"/><circle cx="304.95" cy="836.83" r="5.2"/><circle cx="320.51" cy="858.29" r="5.2"/><circle cx="198.98" cy="740.41" r="5.2"/><circle cx="234.34" cy="869.84" r="5.2"/><circle cx="320.88" cy="861.94" r="5.2"/><circle cx="323" cy="865.91" r="5.2"/><circle cx="315.23" cy="850.68" r="5.2"/><circle cx="263.65" cy="848.29" r="5.2"/><circle cx="379.07" cy="864.51" r="5.2"/><circle cx="378.17" cy="866.45" r="5.2"/><circle cx="398.54" cy="854.38" r="5.2"/><circle cx="246.87" cy="852.78" r="5.2"/><circle cx="481.22" cy="807.41" r="5.2"/><circle cx="393.46" cy="869.14" r="5.2"/><circle cx="330.77" cy="841.69" r="5.2"/><circle cx="222.15" cy="837.24" r="5.2"/><circle cx="493.83" cy="859.66" r="5.2"/><circle cx="394.11" cy="859.83" r="5.2"/><circle cx="330.89" cy="859.77" r="5.2"/><circle cx="274.98" cy="868.47" r="5.2"/><circle cx="288.37" cy="862.64" r="5.2"/><circle cx="235.19" cy="867.39" r="5.2"/><circle cx="240.51" cy="816.67" r="5.2"/><circle cx="361.13" cy="864" r="5.2"/><circle cx="339.14" cy="869.44" r="5.2"/><circle cx="423.13" cy="862.2" r="5.2"/><circle cx="256.09" cy="861.45" r="5.2"/><circle cx="255.54" cy="815.88" r="5.2"/><circle cx="381.98" cy="840.94" r="5.2"/><circle cx="404.8" cy="860.01" r="5.2"/><circle cx="296.37" cy="860.4" r="5.2"/><circle cx="390.75" cy="864.9" r="5.2"/><circle cx="408.63" cy="786.09" r="5.2"/><circle cx="232.31" cy="863.52" r="5.2"/><circle cx="330.03" cy="867.47" r="5.2"/><circle cx="222.31" cy="860.39" r="5.2"/><circle cx="320.49" cy="870.09" r="5.2"/><circle cx="290.56" cy="867.94" r="5.2"/><circle cx="340.84" cy="866.14" r="5.2"/><circle cx="227.44" cy="850.34" r="5.2"/><circle cx="386.71" cy="829.16" r="5.2"/><circle cx="365.05" cy="859.32" r="5.2"/><circle cx="312.78" cy="868.36" r="5.2"/><circle cx="226.06" cy="853.4" r="5.2"/><circle cx="163.45" cy="733.81" r="5.2"/><circle cx="337.84" cy="865.81" r="5.2"/><circle cx="303.96" cy="867.99" r="5.2"/><circle cx="283.81" cy="868.92" r="5.2"/><circle cx="360.23" cy="864.15" r="5.2"/><circle cx="429.21" cy="838.28" r="5.2"/><circle cx="169.65" cy="866.82" r="5.2"/><circle cx="397.5" cy="838.17" r="5.2"/><circle cx="389.3" cy="813.26" r="5.2"/><circle cx="297.68" cy="866.32" r="5.2"/><circle cx="538.82" cy="848.2" r="5.2"/><circle cx="375.34" cy="844.12" r="5.2"/><circle cx="229.56" cy="834.78" r="5.2"/><circle cx="210.66" cy="855.88" r="5.2"/><circle cx="166.63" cy="850.79" r="5.2"/><circle cx="432.19" cy="858.95" r="5.2"/><circle cx="453.43" cy="826.12" r="5.2"/><circle cx="491.32" cy="829.41" r="5.2"/><circle cx="313.49" cy="859.07" r="5.2"/><circle cx="74.42" cy="862.73" r="5.2"/><circle cx="303.19" cy="860.59" r="5.2"/><circle cx="239.2" cy="862.08" r="5.2"/><circle cx="323.99" cy="840.43" r="5.2"/><circle cx="409.95" cy="825.73" r="5.2"/><circle cx="311.13" cy="851.27" r="5.2"/><circle cx="381.84" cy="853.43" r="5.2"/><circle cx="267.35" cy="866.76" r="5.2"/><circle cx="449.28" cy="866.98" r="5.2"/><circle cx="385.13" cy="853.83" r="5.2"/><circle cx="308.79" cy="867.64" r="5.2"/><circle cx="213.79" cy="868.92" r="5.2"/><circle cx="205.2" cy="866.67" r="5.2"/><circle cx="388.32" cy="505.38" r="5.2"/><circle cx="206.25" cy="854.22" r="5.2"/><circle cx="440.72" cy="869.59" r="5.2"/><circle cx="214.14" cy="854.9" r="5.2"/><circle cx="374.71" cy="845.35" r="5.2"/><circle cx="431.99" cy="864.97" r="5.2"/><circle cx="199.27" cy="868.94" r="5.2"/><circle cx="340.32" cy="858" r="5.2"/><circle cx="186.94" cy="860.85" r="5.2"/><circle cx="288.77" cy="868.73" r="5.2"/><circle cx="409.97" cy="833.01" r="5.2"/><circle cx="449.88" cy="816.5" r="5.2"/><circle cx="420.6" cy="867.76" r="5.2"/><circle cx="221.29" cy="863.17" r="5.2"/><circle cx="199.56" cy="847.14" r="5.2"/><circle cx="296.54" cy="861.57" r="5.2"/><circle cx="444.21" cy="860.35" r="5.2"/><circle cx="465.45" cy="847.67" r="5.2"/><circle cx="448.33" cy="861.14" r="5.2"/><circle cx="337.42" cy="866.27" r="5.2"/><circle cx="280.94" cy="845.57" r="5.2"/><circle cx="470.41" cy="868.88" r="5.2"/><circle cx="307.11" cy="792.18" r="5.2"/><circle cx="470.64" cy="851.16" r="5.2"/><circle cx="353.77" cy="856.03" r="5.2"/><circle cx="464.35" cy="861.87" r="5.2"/><circle cx="401.55" cy="864.71" r="5.2"/><circle cx="299.28" cy="868.44" r="5.2"/><circle cx="269.64" cy="869.12" r="5.2"/><circle cx="246.95" cy="849.53" r="5.2"/><circle cx="415.23" cy="716.04" r="5.2"/><circle cx="495.95" cy="861.72" r="5.2"/><circle cx="242.72" cy="869.94" r="5.2"/><circle cx="320.73" cy="864.05" r="5.2"/><circle cx="207.08" cy="859" r="5.2"/><circle cx="313.22" cy="856.55" r="5.2"/><circle cx="198.77" cy="833.76" r="5.2"/><circle cx="313.04" cy="861.41" r="5.2"/><circle cx="284.28" cy="864.4" r="5.2"/><circle cx="413.45" cy="870.16" r="5.2"/><circle cx="353.2" cy="826.56" r="5.2"/><circle cx="259.34" cy="869.52" r="5.2"/><circle cx="504.12" cy="832.21" r="5.2"/><circle cx="366.78" cy="850.41" r="5.2"/><circle cx="519.21" cy="869.67" r="5.2"/><circle cx="301.96" cy="869.12" r="5.2"/><circle cx="420.51" cy="851.65" r="5.2"/><circle cx="408.63" cy="746.5" r="5.2"/><circle cx="405.8" cy="852.75" r="5.2"/><circle cx="504.79" cy="847.24" r="5.2"/><circle cx="443.5" cy="803.42" r="5.2"/><circle cx="267.59" cy="837.65" r="5.2"/><circle cx="278.05" cy="868.01" r="5.2"/><circle cx="259.52" cy="843.97" r="5.2"/><circle cx="314.31" cy="867.14" r="5.2"/><circle cx="262.55" cy="845.2" r="5.2"/><circle cx="319.95" cy="851.02" r="5.2"/><circle cx="170.96" cy="852.14" r="5.2"/><circle cx="265.52" cy="855.68" r="5.2"/><circle cx="190.6" cy="856.77" r="5.2"/><circle cx="430.94" cy="861.76" r="5.2"/><circle cx="508.19" cy="855.67" r="5.2"/><circle cx="276.12" cy="851.4" r="5.2"/><circle cx="269.04" cy="788.63" r="5.2"/><circle cx="311.42" cy="865.76" r="5.2"/><circle cx="426.49" cy="785.04" r="5.2"/><circle cx="173.43" cy="865.21" r="5.2"/><circle cx="243.67" cy="859.48" r="5.2"/><circle cx="234.46" cy="853.15" r="5.2"/><circle cx="258.62" cy="870.3" r="5.2"/><circle cx="406.94" cy="843.58" r="5.2"/><circle cx="344.16" cy="766.8" r="5.2"/><circle cx="221.77" cy="864.86" r="5.2"/><circle cx="610.92" cy="855.6" r="5.2"/><circle cx="395.94" cy="760.71" r="5.2"/><circle cx="345.39" cy="862.55" r="5.2"/><circle cx="451.68" cy="860.85" r="5.2"/><circle cx="307.5" cy="844.31" r="5.2"/><circle cx="333.02" cy="857.34" r="5.2"/><circle cx="246.5" cy="856.4" r="5.2"/><circle cx="110.55" cy="840.5" r="5.2"/><circle cx="372.35" cy="869.69" r="5.2"/><circle cx="249.56" cy="860.35" r="5.2"/><circle cx="123.81" cy="864.42" r="5.2"/><circle cx="453.41" cy="868.88" r="5.2"/><circle cx="230.18" cy="868.91" r="5.2"/><circle cx="272.27" cy="847.23" r="5.2"/><circle cx="331.3" cy="823.13" r="5.2"/><circle cx="402.46" cy="867.25" r="5.2"/><circle cx="242.36" cy="839.73" r="5.2"/><circle cx="226.47" cy="836.9" r="5.2"/><circle cx="355.95" cy="868.41" r="5.2"/><circle cx="287.22" cy="867.97" r="5.2"/><circle cx="126.03" cy="869.51" r="5.2"/><circle cx="130.96" cy="670.36" r="5.2"/><circle cx="240.01" cy="841.06" r="5.2"/><circle cx="346.82" cy="863.71" r="5.2"/><circle cx="223.48" cy="844.38" r="5.2"/><circle cx="195.7" cy="842.83" r="5.2"/><circle cx="331.75" cy="860.53" r="5.2"/><circle cx="245.12" cy="859.16" r="5.2"/><circle cx="291.5" cy="842.72" r="5.2"/><circle cx="408.68" cy="866.03" r="5.2"/><circle cx="491.2" cy="861.15" r="5.2"/><circle cx="162.69" cy="844.84" r="5.2"/><circle cx="454.17" cy="853.47" r="5.2"/><circle cx="369.23" cy="866.47" r="5.2"/><circle cx="472.36" cy="865.99" r="5.2"/><circle cx="190.59" cy="870.2" r="5.2"/><circle cx="304.88" cy="846.6" r="5.2"/><circle cx="367.61" cy="863.77" r="5.2"/><circle cx="292.37" cy="865.83" r="5.2"/><circle cx="499.34" cy="866.78" r="5.2"/><circle cx="336.31" cy="868.76" r="5.2"/><circle cx="369.48" cy="858.84" r="5.2"/><circle cx="262.26" cy="869.88" r="5.2"/><circle cx="121.47" cy="867.41" r="5.2"/><circle cx="285.39" cy="867.09" r="5.2"/><circle cx="254.99" cy="866.99" r="5.2"/><circle cx="244.46" cy="858.37" r="5.2"/><circle cx="209" cy="857.16" r="5.2"/><circle cx="241.74" cy="852.47" r="5.2"/><circle cx="422.99" cy="854.93" r="5.2"/><circle cx="380.87" cy="866.56" r="5.2"/><circle cx="286.95" cy="867.15" r="5.2"/><circle cx="343.39" cy="835.56" r="5.2"/><circle cx="247.99" cy="868.67" r="5.2"/><circle cx="129.05" cy="869.51" r="5.2"/><circle cx="301.28" cy="859.13" r="5.2"/><circle cx="382.38" cy="855" r="5.2"/><circle cx="335.12" cy="868.35" r="5.2"/><circle cx="601.52" cy="868.92" r="5.2"/><circle cx="347.07" cy="830.47" r="5.2"/><circle cx="373.73" cy="834.62" r="5.2"/><circle cx="200.27" cy="862.48" r="5.2"/><circle cx="269.27" cy="868.76" r="5.2"/><circle cx="393.27" cy="861.49" r="5.2"/><circle cx="274.94" cy="865.6" r="5.2"/><circle cx="122.29" cy="858.32" r="5.2"/><circle cx="258.93" cy="864.79" r="5.2"/><circle cx="431.47" cy="774.42" r="5.2"/><circle cx="177.63" cy="865.76" r="5.2"/><circle cx="445.1" cy="856.84" r="5.2"/><circle cx="365.95" cy="856.55" r="5.2"/><circle cx="491.95" cy="864.97" r="5.2"/><circle cx="410.21" cy="865.15" r="5.2"/><circle cx="208.29" cy="870.39" r="5.2"/><circle cx="417.77" cy="655.63" r="5.2"/><circle cx="345.19" cy="850.64" r="5.2"/><circle cx="345.6" cy="868" r="5.2"/><circle cx="340.44" cy="821.15" r="5.2"/><circle cx="398.66" cy="855.43" r="5.2"/><circle cx="266.16" cy="846.27" r="5.2"/><circle cx="519.17" cy="847.03" r="5.2"/><circle cx="427.43" cy="867.22" r="5.2"/><circle cx="295.08" cy="833.68" r="5.2"/><circle cx="217.32" cy="861.68" r="5.2"/><circle cx="315.6" cy="870.12" r="5.2"/><circle cx="429.82" cy="866.46" r="5.2"/><circle cx="197.08" cy="854.81" r="5.2"/><circle cx="278.65" cy="870.05" r="5.2"/><circle cx="469.41" cy="868.47" r="5.2"/><circle cx="455.43" cy="864.57" r="5.2"/><circle cx="472.27" cy="867.11" r="5.2"/><circle cx="362.02" cy="840.65" r="5.2"/><circle cx="331.41" cy="866.26" r="5.2"/><circle cx="338.52" cy="854.48" r="5.2"/><circle cx="311.71" cy="852.67" r="5.2"/><circle cx="220.81" cy="789.64" r="5.2"/><circle cx="200.38" cy="864.24" r="5.2"/><circle cx="267.05" cy="865.49" r="5.2"/><circle cx="365.82" cy="858.77" r="5.2"/><circle cx="416.24" cy="771.88" r="5.2"/><circle cx="356.35" cy="815.03" r="5.2"/><circle cx="469.05" cy="861.46" r="5.2"/><circle cx="387.14" cy="864.11" r="5.2"/><circle cx="274.87" cy="851.8" r="5.2"/><circle cx="246.64" cy="848.41" r="5.2"/><circle cx="330.32" cy="859.39" r="5.2"/><circle cx="230.72" cy="826.27" r="5.2"/><circle cx="421.2" cy="817.28" r="5.2"/><circle cx="331.82" cy="865.78" r="5.2"/>
</g>
<g fill="#f2853a" fill-opacity="0.8" stroke="#b06a36" stroke-opacity="0.75" stroke-width="1">
<circle cx="302.2" cy="870.4" r="5.4"/><circle cx="316.5" cy="870.4" r="5.4"/><circle cx="321" cy="870.4" r="5.4"/><circle cx="347" cy="870.4" r="5.4"/><circle cx="370.5" cy="870.4" r="5.4"/><circle cx="378.6" cy="870.4" r="5.4"/><circle cx="397.6" cy="870.4" r="5.4"/><circle cx="408.7" cy="870.4" r="5.4"/><circle cx="411.6" cy="870.4" r="5.4"/><circle cx="423.4" cy="870.4" r="5.4"/><circle cx="426.4" cy="870.4" r="5.4"/><circle cx="434.5" cy="870.4" r="5.4"/><circle cx="437" cy="870.4" r="5.4"/><circle cx="474" cy="870.4" r="5.4"/><circle cx="476.4" cy="870.4" r="5.4"/><circle cx="509.7" cy="870.4" r="5.4"/><circle cx="517" cy="870.4" r="5.4"/>
</g>
<line x1="63" y1="722.6" x2="592" y2="722.6" stroke="#5a5a5a" stroke-width="1.5" stroke-dasharray="2.3 2.3"/>
<line x1="62.3" y1="499" x2="62.3" y2="879.5" stroke="#666" stroke-width="1.2" />
<line x1="61.7" y1="878.6" x2="615.5" y2="878.6" stroke="#000" stroke-width="2.2" />
<text x="45.6" y="507.92" font-size="21" text-anchor="middle">5</text>
<text x="45.6" y="582.42" font-size="21" text-anchor="middle">4</text>
<text x="45.6" y="656.32" font-size="21" text-anchor="middle">3</text>
<text x="45.6" y="730.72" font-size="21" text-anchor="middle">2</text>
<text x="45.6" y="804.62" font-size="21" text-anchor="middle">1</text>
<text x="45.6" y="878.92" font-size="21" text-anchor="middle">0</text>
<text x="62.8" y="904.31" font-size="20.7" text-anchor="middle">50</text>
<text x="125.5" y="904.31" font-size="20.7" text-anchor="middle">52</text>
<text x="188.2" y="904.31" font-size="20.7" text-anchor="middle">54</text>
<text x="250.9" y="904.31" font-size="20.7" text-anchor="middle">56</text>
<text x="313.6" y="904.31" font-size="20.7" text-anchor="middle">58</text>
<text x="376.3" y="904.31" font-size="20.7" text-anchor="middle">60</text>
<text x="439" y="904.31" font-size="20.7" text-anchor="middle">62</text>
<text x="501.7" y="904.31" font-size="20.7" text-anchor="middle">64</text>
<text x="564.4" y="904.31" font-size="20.7" text-anchor="middle">66</text>
<text x="336.9" y="937.57" font-size="20.3" text-anchor="middle">Stability, Tm (°C)</text>
<text font-size="20" text-anchor="middle" transform="translate(19.5 688) rotate(-90)">Predicted affinity (%rank)</text>
<rect x="71" y="508.3" width="378.2" height="55.9" rx="3" fill="#fff" fill-opacity="0.85" stroke="#e3e3e3" stroke-width="1"/>
<circle cx="94.8" cy="523.1" r="5.2" fill="#dbebe1" fill-opacity="0.28" stroke="#9aaba3" stroke-opacity="0.4"/>
<circle cx="94.8" cy="548.2" r="5.4" fill="#f2853a" fill-opacity="0.8" stroke="#b06a36" stroke-opacity="0.75"/>
<text x="128.5" y="530.64" font-size="17.7" >All HLA-B*07:02 ligands, PCC = –0.07</text>
<text x="128.5" y="555.89" font-size="17.85" >Top 20 affinity predicted ligands</text>
<text x="-0.5" y="30.6" font-size="39.8" font-weight="bold">a</text>
</g>
<g>
<rect x="752" y="124.78" width="27.94" height="138.62" fill="#6cc1b5" />
<rect x="780.64" y="244.84" width="27.94" height="18.56" fill="#6cc1b5" />
<rect x="809.28" y="246" width="27.94" height="17.4" fill="#6cc1b5" />
<rect x="837.92" y="231.5" width="27.94" height="31.9" fill="#6cc1b5" />
<rect x="866.56" y="236.14" width="27.94" height="27.26" fill="#6cc1b5" />
<rect x="895.2" y="239.62" width="27.94" height="23.78" fill="#6cc1b5" />
<rect x="923.84" y="229.18" width="27.94" height="34.22" fill="#6cc1b5" />
<rect x="952.48" y="226.28" width="27.94" height="37.12" fill="#6cc1b5" />
<rect x="981.12" y="226.28" width="27.94" height="37.12" fill="#6cc1b5" />
<rect x="1009.76" y="224.54" width="27.94" height="38.86" fill="#6cc1b5" />
<rect x="1038.4" y="34.3" width="27.94" height="229.1" fill="#6cc1b5" />
<line x1="736" y1="21.5" x2="736" y2="264.5" stroke="#000" stroke-width="2" />
<line x1="735" y1="263.4" x2="1084" y2="263.4" stroke="#000" stroke-width="2.2" />
<text x="728.5" y="38.16" font-size="18.6" text-anchor="end">400</text>
<text x="728.5" y="95.96" font-size="18.6" text-anchor="end">300</text>
<text x="728.5" y="154.16" font-size="18.6" text-anchor="end">200</text>
<text x="728.5" y="212.16" font-size="18.6" text-anchor="end">100</text>
<text x="728.5" y="270.26" font-size="18.6" text-anchor="end">0</text>
<text x="752.7" y="284.32" font-size="18.5" text-anchor="middle">0.0</text>
<text x="815.8" y="284.32" font-size="18.5" text-anchor="middle">0.2</text>
<text x="878.9" y="284.32" font-size="18.5" text-anchor="middle">0.4</text>
<text x="942" y="284.32" font-size="18.5" text-anchor="middle">0.6</text>
<text x="1005.1" y="284.32" font-size="18.5" text-anchor="middle">0.8</text>
<text x="1068.2" y="284.32" font-size="18.5" text-anchor="middle">1.0</text>
<text x="910.4" y="312.09" font-size="18.4" text-anchor="middle">Transformed Tm</text>
<text font-size="20" text-anchor="middle" transform="translate(677.5 142) rotate(-90)">Peptide count</text>
<text x="661" y="30.6" font-size="39.8" font-weight="bold">b</text>
<text x="1083.4" y="66.83" font-size="18.25" fill="#7f7f7f" font-style="italic">Transform</text>
<text x="1083.4" y="88.93" font-size="18.25" fill="#7f7f7f" font-style="italic">Tm values</text>
<text x="1083.4" y="111.03" font-size="18.25" fill="#7f7f7f" font-style="italic">to train</text>
<text x="1083.4" y="133.13" font-size="18.25" fill="#7f7f7f" font-style="italic">ANN for</text>
<text x="1083.4" y="155.23" font-size="18.25" fill="#7f7f7f" font-style="italic">motif</text>
<text x="1083.4" y="177.33" font-size="18.25" fill="#7f7f7f" font-style="italic">separation</text>
<line x1="1161" y1="205.8" x2="1091.8" y2="205.8" stroke="#7f7f7f" stroke-width="2.2" /><polygon points="1081,205.8 1094.5,199.6 1094.5,212" fill="#7f7f7f"/>
<line x1="1076" y1="321" x2="1076" y2="392" stroke="#d4d4d4" stroke-width="2.2" />
<line x1="1076" y1="321" x2="1076" y2="392" stroke="#808080" stroke-width="2.9" stroke-dasharray="2.6 2.2"/>
<line x1="1076" y1="386" x2="1076" y2="470.6" stroke="#7f7f7f" stroke-width="2.8" />
<polygon points="1076,480.6 1069.5,468.1 1082.5,468.1" fill="#7f7f7f"/>
<text x="928.7" y="377.93" font-size="18.25" fill="#7f7f7f" font-style="italic">Train ANN and</text>
<text x="928.7" y="400.13" font-size="18.25" fill="#7f7f7f" font-style="italic">Predict &gt;8,000</text>
<text x="928.7" y="422.33" font-size="18.25" fill="#7f7f7f" font-style="italic">A*02:01 ligands</text>
</g>
<g>
<polygon points="1215.5,56.6 1240,66 1265,68 1290.3,74 1324,86 1347.4,75 1372.5,134.6 1406,182.4 1430.8,240 1456.2,250.6 1480,262 1500,265 1500,265 1480,265 1456.2,265 1430.8,259 1406,233.8 1372.5,176.7 1347.4,149 1324,118.6 1290.3,134.2 1265,105.4 1240,107.6 1215.5,90" fill="#e9edf6"/>
<g stroke="#b9c8e4" stroke-width="1" fill="#a4b8dc">
<path d="M1239.8 66V107.6M1237.3 66h5M1237.3 107.6h5" fill="none"/>
<circle cx="1239.8" cy="87.1" r="2.6" stroke="none"/>
<path d="M1265.2 68V105.4M1262.7 68h5M1262.7 105.4h5" fill="none"/>
<circle cx="1265.2" cy="87.1" r="2.6" stroke="none"/>
<path d="M1290.3 73.8V134.2M1287.8 73.8h5M1287.8 134.2h5" fill="none"/>
<circle cx="1290.3" cy="104.6" r="2.6" stroke="none"/>
<path d="M1324 85.7V118.6M1321.5 85.7h5M1321.5 118.6h5" fill="none"/>
<circle cx="1324" cy="102.2" r="2.6" stroke="none"/>
<path d="M1347.4 75V149M1344.9 75h5M1344.9 149h5" fill="none"/>
<circle cx="1347.4" cy="112.5" r="2.6" stroke="none"/>
<path d="M1372.5 134.6V176.7M1370 134.6h5M1370 176.7h5" fill="none"/>
<circle cx="1372.5" cy="156" r="2.6" stroke="none"/>
<path d="M1406 182.4V233.8M1403.5 182.4h5M1403.5 233.8h5" fill="none"/>
<circle cx="1406" cy="208.7" r="2.6" stroke="none"/>
<path d="M1430.8 240V259M1428.3 240h5M1428.3 259h5" fill="none"/>
<circle cx="1430.8" cy="249.4" r="2.6" stroke="none"/>
<path d="M1456.2 250.6V265M1453.7 250.6h5M1453.7 265h5" fill="none"/>
<circle cx="1456.2" cy="264.6" r="2.6" stroke="none"/>
</g>
<polyline points="1215.2,73.4 1219.2,73.44 1223.2,73.5 1227.2,73.56 1231.2,73.63 1235.2,73.72 1239.2,73.82 1243.2,73.93 1247.2,74.07 1251.2,74.23 1255.2,74.42 1259.2,74.65 1263.2,74.91 1267.2,75.22 1271.2,75.58 1275.2,76 1279.2,76.49 1283.2,77.07 1287.2,77.74 1291.2,78.53 1295.2,79.44 1299.2,80.5 1303.2,81.74 1307.2,83.17 1311.2,84.83 1315.2,86.74 1319.2,88.93 1323.2,91.45 1327.2,94.31 1331.2,97.56 1335.2,101.23 1339.2,105.34 1343.2,109.92 1347.2,114.98 1351.2,120.52 1355.2,126.54 1359.2,133 1363.2,139.88 1367.2,147.1 1371.2,154.59 1375.2,162.28 1379.2,170.05 1383.2,177.82 1387.2,185.47 1391.2,192.92 1395.2,200.07 1399.2,206.87 1403.2,213.25 1407.2,219.17 1411.2,224.62 1415.2,229.58 1419.2,234.07 1423.2,238.09 1427.2,241.67 1431.2,244.84 1435.2,247.63 1439.2,250.07 1443.2,252.21 1447.2,254.07 1451.2,255.67 1455.2,257.07 1459.2,258.27 1463.2,259.3 1467.2,260.19 1471.2,260.95 1475.2,261.6 1479.2,262.16 1483.2,262.64 1487.2,263.05 1491.2,263.39 1495.2,263.69 1499.2,263.94 1503.2,264.16 1507.2,264.35 1511.2,264.5 1515.2,264.64 1519.2,264.75" fill="none" stroke="#6a8cc8" stroke-width="1.5"/>
<path d="M1217 172.3H1380V274.5" fill="none" stroke="#c8484a" stroke-width="1.4" stroke-dasharray="2.2 2.2"/>
<text x="1382.5" y="165.26" font-size="18.6" fill="#8c1515">Tm=55.8°C</text>
<line x1="1215.2" y1="14.3" x2="1215.2" y2="266.5" stroke="#000" stroke-width="2" />
<line x1="1214.2" y1="265.4" x2="1523" y2="265.4" stroke="#000" stroke-width="2.2" />
<text x="1194.8" y="79.31" font-size="16.5" text-anchor="middle">1.0</text>
<text x="1194.8" y="117.91" font-size="16.5" text-anchor="middle">0.8</text>
<text x="1194.8" y="156.31" font-size="16.5" text-anchor="middle">0.6</text>
<text x="1194.8" y="194.91" font-size="16.5" text-anchor="middle">0.4</text>
<text x="1194.8" y="233.51" font-size="16.5" text-anchor="middle">0.2</text>
<text x="1201.5" y="271.51" font-size="16.5" text-anchor="middle">0</text>
<text x="1240.8" y="288.21" font-size="16.5" text-anchor="middle">40C</text>
<text x="1282.15" y="288.21" font-size="16.5" text-anchor="middle">45C</text>
<text x="1323.5" y="288.21" font-size="16.5" text-anchor="middle">50C</text>
<text x="1364.85" y="288.21" font-size="16.5" text-anchor="middle">55C</text>
<text x="1406.2" y="288.21" font-size="16.5" text-anchor="middle">60C</text>
<text x="1447.55" y="288.21" font-size="16.5" text-anchor="middle">65C</text>
<text x="1488.9" y="288.21" font-size="16.5" text-anchor="middle">70C</text>
<text x="1504.5" y="79.53" font-size="18.25" fill="#7f7f7f" font-style="italic">Transform</text>
<text x="1504.5" y="101.43" font-size="18.25" fill="#7f7f7f" font-style="italic">Tm values</text>
<text x="1504.5" y="123.33" font-size="18.25" fill="#7f7f7f" font-style="italic">to train ANN</text>
<text x="1504.5" y="145.23" font-size="18.25" fill="#7f7f7f" font-style="italic">to predict</text>
<text x="1504.5" y="167.13" font-size="18.25" fill="#7f7f7f" font-style="italic">immuno-</text>
<text x="1504.5" y="189.03" font-size="18.25" fill="#7f7f7f" font-style="italic">genicity</text>
<line x1="1504.5" y1="205.5" x2="1574.4" y2="205.5" stroke="#7f7f7f" stroke-width="2.2" /><polygon points="1585.2,205.5 1571.7,199.3 1571.7,211.7" fill="#7f7f7f"/>
</g>
<g>
<rect x="1691" y="24.6" width="23.5" height="238.5" fill="#f3f6fb" />
<line x1="1691" y1="24.6" x2="1691" y2="263" stroke="#9cb6d6" stroke-width="1.3" stroke-dasharray="2.2 2.2"/>
<line x1="1714.5" y1="24.6" x2="1714.5" y2="263" stroke="#9cb6d6" stroke-width="1.3" stroke-dasharray="2.2 2.2"/>
<rect x="1849.6" y="242" width="21.92" height="21.3" fill="#6cc1b5" />
<rect x="1872.22" y="233.5" width="21.92" height="29.8" fill="#6cc1b5" />
<rect x="1894.84" y="221" width="21.92" height="42.3" fill="#6cc1b5" />
<rect x="1917.46" y="187.1" width="21.92" height="76.2" fill="#6cc1b5" />
<rect x="1940.08" y="59.2" width="21.92" height="204.1" fill="#6cc1b5" />
<rect x="1962.7" y="35.5" width="21.92" height="227.8" fill="#6cc1b5" />
<rect x="1985.32" y="176" width="21.92" height="87.3" fill="#6cc1b5" />
<line x1="1677.8" y1="23.4" x2="1677.8" y2="264.4" stroke="#000" stroke-width="2" />
<line x1="1676.8" y1="263.3" x2="2024" y2="263.3" stroke="#000" stroke-width="2.2" />
<text x="1667.1" y="79.53" font-size="16" text-anchor="end">300</text>
<text x="1667.1" y="143.03" font-size="16" text-anchor="end">200</text>
<text x="1667.1" y="206.33" font-size="16" text-anchor="end">100</text>
<text x="1667.1" y="269.33" font-size="16" text-anchor="end">0</text>
<text x="1692.7" y="283.93" font-size="16" text-anchor="middle">0.0</text>
<text x="1755.55" y="283.93" font-size="16" text-anchor="middle">0.2</text>
<text x="1818.4" y="283.93" font-size="16" text-anchor="middle">0.4</text>
<text x="1881.25" y="283.93" font-size="16" text-anchor="middle">0.6</text>
<text x="1944.1" y="283.93" font-size="16" text-anchor="middle">0.8</text>
<text x="2006.95" y="283.93" font-size="16" text-anchor="middle">1.0</text>
<text x="1850.3" y="312.14" font-size="16.3" text-anchor="middle">Transformed Tm</text>
<text font-size="20" text-anchor="middle" transform="translate(1620.5 143.4) rotate(-90)">Peptide count</text>
<text x="1602.5" y="30.6" font-size="39.8" font-weight="bold">d</text>
<text x="1723" y="44.43" font-size="17.4" fill="#b4c6d9" font-style="italic">Randomly</text>
<text x="1723" y="65.13" font-size="17.4" fill="#b4c6d9" font-style="italic">sampled</text>
<text x="1723" y="85.83" font-size="17.4" fill="#b4c6d9" font-style="italic">negative data</text>
<line x1="1666" y1="321.7" x2="1666" y2="392" stroke="#d4d4d4" stroke-width="2.2" />
<line x1="1666" y1="321.7" x2="1666" y2="392" stroke="#808080" stroke-width="2.9" stroke-dasharray="2.6 2.2"/>
<line x1="1666" y1="386" x2="1666" y2="470.6" stroke="#7f7f7f" stroke-width="2.8" />
<polygon points="1666,480.6 1659.5,468.1 1672.5,468.1" fill="#7f7f7f"/>
<text x="1682" y="377.53" font-size="18.25" fill="#7f7f7f" font-style="italic">Train ANN and</text>
<text x="1682" y="399.73" font-size="18.25" fill="#7f7f7f" font-style="italic">Predict A*02:01</text>
<text x="1682" y="421.93" font-size="18.25" fill="#7f7f7f" font-style="italic">cancer neoepitopes</text>
</g>
<g>
<linearGradient id="gin" gradientUnits="userSpaceOnUse" x1="0" y1="306" x2="0" y2="340"><stop offset="0" stop-color="#a3a5a6" stop-opacity="0"/><stop offset="1" stop-color="#a3a5a6"/></linearGradient>
<rect x="1237.6" y="306" width="1.4" height="50" fill="url(#gin)"/>
<polygon points="1238.3,366 1232.9,355.3 1243.7,355.3" fill="#878a8b"/>
<rect x="1319.6" y="306" width="1.4" height="50" fill="url(#gin)"/>
<polygon points="1320.3,366 1314.9,355.3 1325.7,355.3" fill="#878a8b"/>
<rect x="1400.8" y="306" width="1.4" height="50" fill="url(#gin)"/>
<polygon points="1401.5,366 1396.1,355.3 1406.9,355.3" fill="#878a8b"/>
<rect x="1483.3" y="306" width="1.4" height="50" fill="url(#gin)"/>
<polygon points="1484,366 1478.6,355.3 1489.4,355.3" fill="#878a8b"/>
<line x1="1241.5" y1="431.4" x2="1256.65" y2="466.69" stroke="#a3a5a6" stroke-width="1.3" /><polygon points="1260,474.5 1251.08,466.9 1260.64,462.8" fill="#878a8b"/>
<line x1="1243" y1="431.8" x2="1327.49" y2="476.62" stroke="#a3a5a6" stroke-width="1.3" /><polygon points="1335,480.6 1323.29,480.27 1328.16,471.09" fill="#878a8b"/>
<line x1="1243" y1="431.2" x2="1410.8" y2="477.15" stroke="#a3a5a6" stroke-width="1.3" /><polygon points="1419,479.4 1407.5,481.64 1410.25,471.61" fill="#878a8b"/>
<line x1="1317.4" y1="432.6" x2="1303.76" y2="466.61" stroke="#a3a5a6" stroke-width="1.3" /><polygon points="1300.6,474.5 1299.68,462.82 1309.33,466.69" fill="#878a8b"/>
<line x1="1329" y1="432.6" x2="1343.98" y2="466.72" stroke="#a3a5a6" stroke-width="1.3" /><polygon points="1347.4,474.5 1338.42,466.98 1347.94,462.8" fill="#878a8b"/>
<line x1="1337.6" y1="427.7" x2="1429.5" y2="467.43" stroke="#a3a5a6" stroke-width="1.3" /><polygon points="1437.3,470.8 1425.6,471.41 1429.73,461.86" fill="#878a8b"/>
<line x1="1385.6" y1="428.4" x2="1293.82" y2="467.47" stroke="#a3a5a6" stroke-width="1.3" /><polygon points="1286,470.8 1293.62,461.9 1297.7,471.47" fill="#878a8b"/>
<line x1="1394.2" y1="432.6" x2="1380.23" y2="466.64" stroke="#a3a5a6" stroke-width="1.3" /><polygon points="1377,474.5 1376.18,462.81 1385.8,466.76" fill="#878a8b"/>
<line x1="1406.5" y1="432.6" x2="1422.58" y2="466.81" stroke="#a3a5a6" stroke-width="1.3" /><polygon points="1426.2,474.5 1417.03,467.21 1426.44,462.79" fill="#878a8b"/>
<line x1="1482.8" y1="432" x2="1315.01" y2="477.19" stroke="#a3a5a6" stroke-width="1.3" /><polygon points="1306.8,479.4 1315.59,471.65 1318.29,481.69" fill="#878a8b"/>
<line x1="1482" y1="432" x2="1394.37" y2="476.74" stroke="#a3a5a6" stroke-width="1.3" /><polygon points="1386.8,480.6 1393.79,471.19 1398.52,480.46" fill="#878a8b"/>
<line x1="1481.6" y1="432" x2="1466.33" y2="467.88" stroke="#a3a5a6" stroke-width="1.3" /><polygon points="1463,475.7 1462.33,464 1471.9,468.08" fill="#878a8b"/>
<line x1="1289.5" y1="537.2" x2="1329.88" y2="572.23" stroke="#a3a5a6" stroke-width="1.3" /><polygon points="1336.3,577.8 1324.96,574.85 1331.78,566.99" fill="#878a8b"/>
<line x1="1360.4" y1="538.5" x2="1360.4" y2="561" stroke="#a3a5a6" stroke-width="1.3" /><polygon points="1360.4,569.5 1355.2,559 1365.6,559" fill="#878a8b"/>
<line x1="1431" y1="537.2" x2="1389.49" y2="572.31" stroke="#a3a5a6" stroke-width="1.3" /><polygon points="1383,577.8 1387.66,567.05 1394.37,574.99" fill="#878a8b"/>
<g fill="#d6eae7" stroke="#5b92e8" stroke-width="1.8">
<ellipse cx="1238.3" cy="398.2" rx="31.6" ry="32.8"/>
<ellipse cx="1320.3" cy="398.2" rx="31.6" ry="32.8"/>
<ellipse cx="1401.5" cy="398.2" rx="31.6" ry="32.8"/>
<ellipse cx="1484" cy="398.2" rx="31.6" ry="32.8"/>
<ellipse cx="1280.2" cy="505.2" rx="31.6" ry="32.8"/>
<ellipse cx="1360.4" cy="505.2" rx="31.6" ry="32.8"/>
<ellipse cx="1443.4" cy="505.2" rx="31.6" ry="32.8"/>
<ellipse cx="1360.4" cy="602.5" rx="31.6" ry="32.8"/>
</g>
</g>
<g>
<rect x="1670.8" y="536.6" width="11.8" height="304.7" fill="#17485c" />
<rect x="1683.8" y="553.5" width="11.6" height="287.8" fill="#1b7a79" />
<rect x="1696.3" y="562" width="11.8" height="279.3" fill="#82c8b1" />
<rect x="1709.2" y="571.7" width="11.8" height="269.6" fill="#1fa2b9" />
<rect x="1722.1" y="578.2" width="12.4" height="263.1" fill="#c1e0c9" />
<rect x="1751.3" y="513.8" width="10.6" height="327.5" fill="#17485c" />
<rect x="1762.9" y="523.7" width="11.8" height="317.6" fill="#1b7a79" />
<rect x="1775.7" y="546.6" width="12" height="294.7" fill="#82c8b1" />
<rect x="1788.8" y="562.3" width="11.7" height="279" fill="#1fa2b9" />
<rect x="1801.3" y="552.5" width="12" height="288.8" fill="#c1e0c9" />
<rect x="1831" y="477.7" width="11.5" height="363.6" fill="#17485c" />
<rect x="1843.7" y="543.9" width="11.6" height="297.4" fill="#1b7a79" />
<rect x="1856.2" y="589.7" width="12" height="251.6" fill="#82c8b1" />
<rect x="1869" y="589.7" width="12" height="251.6" fill="#1fa2b9" />
<rect x="1882" y="543.9" width="12.2" height="297.4" fill="#c1e0c9" />
<rect x="1911" y="472.7" width="12" height="368.6" fill="#17485c" />
<rect x="1924" y="555.2" width="11.8" height="286.1" fill="#1b7a79" />
<rect x="1936.6" y="596.3" width="11.7" height="245" fill="#82c8b1" />
<rect x="1949.5" y="596.3" width="11.9" height="245" fill="#1fa2b9" />
<rect x="1962.4" y="555.2" width="12.3" height="286.1" fill="#c1e0c9" />
<line x1="1662" y1="841.4" x2="1985" y2="841.4" stroke="#111" stroke-width="2" />
<line x1="1984.2" y1="473.5" x2="1984.2" y2="842.3" stroke="#111" stroke-width="1.5" />
<line x1="1984" y1="841.3" x2="1986.6" y2="841.3" stroke="#111" stroke-width="1.4" />
<text x="1995.2" y="843.01" font-size="16.5" >0</text>
<line x1="1984" y1="800.55" x2="1986.6" y2="800.55" stroke="#111" stroke-width="1.4" />
<text x="1995.2" y="802.26" font-size="16.5" >0.1</text>
<line x1="1984" y1="759.8" x2="1986.6" y2="759.8" stroke="#111" stroke-width="1.4" />
<text x="1995.2" y="761.51" font-size="16.5" >0.2</text>
<line x1="1984" y1="719.05" x2="1986.6" y2="719.05" stroke="#111" stroke-width="1.4" />
<text x="1995.2" y="720.76" font-size="16.5" >0.3</text>
<line x1="1984" y1="678.3" x2="1986.6" y2="678.3" stroke="#111" stroke-width="1.4" />
<text x="1995.2" y="680.01" font-size="16.5" >0.4</text>
<line x1="1984" y1="637.55" x2="1986.6" y2="637.55" stroke="#111" stroke-width="1.4" />
<text x="1995.2" y="639.26" font-size="16.5" >0.5</text>
<line x1="1984" y1="596.8" x2="1986.6" y2="596.8" stroke="#111" stroke-width="1.4" />
<text x="1995.2" y="598.51" font-size="16.5" >0.6</text>
<line x1="1984" y1="556.05" x2="1986.6" y2="556.05" stroke="#111" stroke-width="1.4" />
<text x="1995.2" y="557.76" font-size="16.5" >0.7</text>
<line x1="1984" y1="515.3" x2="1986.6" y2="515.3" stroke="#111" stroke-width="1.4" />
<text x="1995.2" y="517.01" font-size="16.5" >0.8</text>
<line x1="1984" y1="474.55" x2="1986.6" y2="474.55" stroke="#111" stroke-width="1.4" />
<text x="1995.2" y="476.26" font-size="16.5" >0.9</text>
<text font-size="20" text-anchor="middle" transform="translate(2031.5 654.5) rotate(90)">Performance</text>
<text x="1821.3" y="973.87" font-size="20.3" text-anchor="middle">Performance measure</text>
<text transform="translate(1701.5 864.6) rotate(-35.8)" font-size="16.3" text-anchor="end">AUC (ROC)</text>
<text transform="translate(1778.3 864.6) rotate(-35.8)" font-size="16.3" text-anchor="end">Average Precision</text>
<text transform="translate(1858.6 863.6) rotate(-35.8)" font-size="16.3" text-anchor="end">PPV (30% recall)</text>
<text transform="translate(1939.8 866) rotate(-35.8)" font-size="16.3" text-anchor="end">Precision in Top10</text>
<rect x="1444" y="723.7" width="207.3" height="112" rx="3" fill="#fff" stroke="#e2e2e2" stroke-width="1"/>
<rect x="1450" y="730.6" width="29.1" height="9.8" fill="#17485c" />
<text x="1490.2" y="738.7" font-size="16.2" >Stability Predictor</text>
<rect x="1450" y="752.4" width="29.1" height="9.8" fill="#1b7a79" />
<text x="1490.2" y="760.5" font-size="16.2" >MixMHCpred</text>
<rect x="1450" y="774.2" width="29.1" height="9.8" fill="#82c8b1" />
<text x="1490.2" y="782.3" font-size="16.2" >NetMHCpan-4.0 (EL)</text>
<rect x="1450" y="796" width="29.1" height="9.8" fill="#1fa2b9" />
<text x="1490.2" y="804.1" font-size="16.2" >NetMHCpan-4.0 (BA)</text>
<rect x="1450" y="817.8" width="29.1" height="9.8" fill="#c1e0c9" />
<text x="1490.2" y="825.9" font-size="16.2" >MHCFlurry</text>
<text x="1622" y="523.6" font-size="39.8" font-weight="bold">e</text>
</g>
<g>
<text x="640.5" y="534.4" font-size="39.8" font-weight="bold">c</text>
<text x="690.3" y="544.43" font-size="20.2" >Stability predictor</text>
<text x="979.2" y="544.43" font-size="20.2" >NetMHCpan-4.0 (EL)</text>
<line x1="948.4" y1="560" x2="948.4" y2="950" stroke="#b5b5b5" stroke-width="2" stroke-dasharray="4.6 5.3"/>
<g font-family="Liberation Sans, sans-serif" font-weight="bold" font-size="100">
<text transform="matrix(0.3638 0 0 0.0988 690.92 678.85)" fill="#1010ee">K</text>
<text transform="matrix(0.3922 0 0 0.065 692.22 683.79)" fill="#00c800">S</text>
<text transform="matrix(0.3991 0 0 0.0523 692.9 687.85)" fill="#00c800">T</text>
<text transform="matrix(0.3702 0 0 0.0523 690.87 691.85)" fill="#1010ee">R</text>
<text transform="matrix(0.3503 0 0 0.0959 692.48 698.85)">A</text>
<text transform="matrix(0.3708 0 0 0.0814 692.72 704.85)" fill="#00c800">Y</text>
<text transform="matrix(0.3922 0 0 0.065 692.22 709.79)" fill="#00c800">S</text>
<text transform="matrix(0.4579 0 0 1.5974 714.59 672.85)">L</text>
<text transform="matrix(0.5254 0 0 0.2368 713.62 688.85)" font-family="Liberation Mono, monospace">I</text>
<text transform="matrix(0.3597 0 0 0.2267 717.4 704.85)">V</text>
<text transform="matrix(0.3361 0 0 0.0669 715.4 709.85)">M</text>
<text transform="matrix(0.4632 0 0 0.0422 738.85 698.85)">F</text>
<text transform="matrix(0.3503 0 0 0.0378 741.08 701.85)" fill="#777">A</text>
<text transform="matrix(0.3922 0 0 0.0508 740.82 705.8)" fill="#00c800">S</text>
<text transform="matrix(0.3708 0 0 0.0523 741.32 709.85)" fill="#00c800">Y</text>
<text transform="matrix(0.3832 0 0 0.2369 763.69 676.55)" fill="#e3000f">D</text>
<text transform="matrix(0.4189 0 0 0.1366 763.45 686.35)" fill="#e3000f">E</text>
<text transform="matrix(0.3482 0 0 0.1003 764.82 693.75)" fill="#00c800">G</text>
<text transform="matrix(0.3638 0 0 0.0669 763.82 698.85)" fill="#1010ee">K</text>
<text transform="matrix(0.3997 0 0 0.0741 763.58 704.35)" fill="#00c800">N</text>
<text transform="matrix(0.4153 0 0 0.0741 763.47 709.85)">P</text>
<text transform="matrix(0.4632 0 0 0.1017 787.45 675.85)">F</text>
<text transform="matrix(0.4579 0 0 0.0959 787.49 682.85)">L</text>
<text transform="matrix(0.5254 0 0 0.0547 786.52 686.85)" font-family="Liberation Mono, monospace">I</text>
<text transform="matrix(0.3597 0 0 0.077 790.3 692.55)">V</text>
<text transform="matrix(0.3997 0 0 0.0654 787.88 697.45)" fill="#1010ee">H</text>
<text transform="matrix(0.3708 0 0 0.048 789.92 701.15)" fill="#00c800">Y</text>
<text transform="matrix(0.3702 0 0 0.0625 788.07 705.85)" fill="#1010ee">R</text>
<text transform="matrix(0.3638 0 0 0.0523 788.12 709.85)" fill="#1010ee">K</text>
<text transform="matrix(0.4579 0 0 0.3881 811.79 670.35)">L</text>
<text transform="matrix(0.5254 0 0 0.2368 810.82 686.35)" font-family="Liberation Mono, monospace">I</text>
<text transform="matrix(0.3597 0 0 0.2558 814.6 704.35)">V</text>
<text transform="matrix(0.4632 0 0 0.0741 811.75 709.85)">F</text>
<text transform="matrix(0.3997 0 0 0.0465 836.48 699.85)" fill="#1010ee">H</text>
<text transform="matrix(0.4579 0 0 0.0523 836.09 703.85)">L</text>
<text transform="matrix(0.3597 0 0 0.0378 838.9 706.85)">V</text>
<text transform="matrix(0.3708 0 0 0.0378 838.52 709.85)" fill="#00c800">Y</text>
<text transform="matrix(0.3922 0 0 0.0749 862.32 692.78)" fill="#00c800">S</text>
<text transform="matrix(0.4189 0 0 0.0305 860.65 695.35)" fill="#e3000f">E</text>
<text transform="matrix(0.3638 0 0 0.0451 861.02 698.85)" fill="#1010ee">K</text>
<text transform="matrix(0.3991 0 0 0.0523 863 702.85)" fill="#00c800">T</text>
<text transform="matrix(0.3702 0 0 0.0523 860.97 706.85)" fill="#1010ee">R</text>
<text transform="matrix(0.3482 0 0 0.0367 862.02 709.81)" fill="#00c800">G</text>
<text transform="matrix(0.3597 0 0 0.9317 887.5 653.65)">V</text>
<text transform="matrix(0.4579 0 0 0.3459 884.69 677.85)">L</text>
<text transform="matrix(0.5254 0 0 0.2095 883.72 692.05)" font-family="Liberation Mono, monospace">I</text>
<text transform="matrix(0.3503 0 0 0.2529 886.88 709.85)">A</text>
<text transform="matrix(0.4189 0 0 0.0305 690.55 713.35)" fill="#e3000f" opacity="0.75">E</text>
<text transform="matrix(0.3482 0 0 0.0367 691.92 716.31)" fill="#00c800" opacity="0.75">G</text>
<text transform="matrix(0.3922 0 0 0.0438 716.52 714.31)" fill="#00c800" opacity="0.75">S</text>
<text transform="matrix(0.3991 0 0 0.0596 717.2 718.85)" fill="#00c800" opacity="0.75">T</text>
<text transform="matrix(0.3503 0 0 0.0814 716.78 724.85)" opacity="0.75">A</text>
<text transform="matrix(0.3638 0 0 0.016 739.52 712.35)" fill="#1010ee" opacity="0.75">K</text>
<text transform="matrix(0.3832 0 0 0.0233 739.39 714.35)" fill="#e3000f" opacity="0.75">D</text>
<text transform="matrix(0.3503 0 0 0.0669 765.38 715.85)" opacity="0.75">A</text>
<text transform="matrix(0.3702 0 0 0.0523 763.77 719.85)" fill="#1010ee" opacity="0.75">R</text>
<text transform="matrix(0.3922 0 0 0.0932 765.12 726.76)" fill="#00c800" opacity="0.75">S</text>
<text transform="matrix(0.3503 0 0 0.0378 789.68 713.85)" fill="#777" opacity="0.75">A</text>
<text transform="matrix(0.4189 0 0 0.0523 787.75 717.85)" fill="#e3000f" opacity="0.75">E</text>
<text transform="matrix(0.3638 0 0 0.0378 812.42 713.85)" fill="#1010ee" opacity="0.75">K</text>
<text transform="matrix(0.3991 0 0 0.0669 814.4 718.85)" fill="#00c800" opacity="0.75">T</text>
<text transform="matrix(0.3503 0 0 0.0669 813.98 723.85)" opacity="0.75">A</text>
<text transform="matrix(0.3482 0 0 0.0438 813.42 727.31)" fill="#00c800" opacity="0.75">G</text>
<text transform="matrix(0.3638 0 0 0.0669 836.72 715.85)" fill="#1010ee" opacity="0.75">K</text>
<text transform="matrix(0.3991 0 0 0.0378 838.7 718.85)" fill="#00c800" opacity="0.75">T</text>
<text transform="matrix(0.3503 0 0 0.0378 838.28 721.85)" opacity="0.75">A</text>
<text transform="matrix(0.4189 0 0 0.0378 836.35 724.85)" fill="#e3000f" opacity="0.75">E</text>
<text transform="matrix(0.4189 0 0 0.0233 860.65 712.85)" fill="#e3000f" opacity="0.75">E</text>
<text transform="matrix(0.3503 0 0 0.0305 862.58 715.35)" fill="#777" opacity="0.75">A</text>
<text transform="matrix(0.4632 0 0 0.0523 884.65 715.85)" opacity="0.75">F</text>
<text transform="matrix(0.3922 0 0 0.072 886.62 721.28)" fill="#00c800" opacity="0.75">S</text>
</g>
<line x1="692.6" y1="711.2" x2="930.5" y2="711.2" stroke="#d0407a" stroke-width="1" stroke-opacity="0.8"/>
<line x1="692.6" y1="562.5" x2="692.6" y2="727" stroke="#777" stroke-width="1.1" />
<path d="M692.6 581.9h-4.5M692.6 624.3h-4.5M692.6 666.8h-4.5M692.6 709.3h-4.5M692.6 709.3h-2.2M692.6 700.82h-2.2M692.6 692.34h-2.2M692.6 683.86h-2.2M692.6 675.38h-2.2M692.6 666.9h-2.2M692.6 658.42h-2.2M692.6 649.94h-2.2M692.6 641.46h-2.2M692.6 632.98h-2.2M692.6 624.5h-2.2M692.6 616.02h-2.2M692.6 607.54h-2.2M692.6 599.06h-2.2M692.6 590.58h-2.2M692.6 582.1h-2.2M692.6 573.62h-2.2M692.6 565.14h-2.2M692.6 717.78h-2.2M692.6 726.26h-2.2" stroke="#777" stroke-width="1" fill="none"/>
<text x="683.4" y="587" text-anchor="end" font-size="10.8" letter-spacing="0.9" fill="#111">1.5</text>
<text x="683.4" y="629.07" text-anchor="end" font-size="10.8" letter-spacing="0.9" fill="#111">1.0</text>
<text x="683.4" y="671.23" text-anchor="end" font-size="10.8" letter-spacing="0.9" fill="#111">0.5</text>
<text x="683.4" y="713.4" text-anchor="end" font-size="10.8" letter-spacing="0.9" fill="#111">0.0</text>
<text font-size="14" text-anchor="middle" fill="#111" transform="translate(652 643.4) rotate(-90)">Bits</text>
<text x="688" y="741.95" font-size="15.5" text-anchor="middle" fill="#111">N</text>
<text x="704.8" y="741.13" font-size="13.2" text-anchor="middle" fill="#111">1</text>
<text x="729.1" y="741.13" font-size="13.2" text-anchor="middle" fill="#111">2</text>
<text x="753.4" y="741.13" font-size="13.2" text-anchor="middle" fill="#111">3</text>
<text x="777.7" y="741.13" font-size="13.2" text-anchor="middle" fill="#111">4</text>
<text x="802" y="741.13" font-size="13.2" text-anchor="middle" fill="#111">5</text>
<text x="826.3" y="741.13" font-size="13.2" text-anchor="middle" fill="#111">6</text>
<text x="850.6" y="741.13" font-size="13.2" text-anchor="middle" fill="#111">7</text>
<text x="874.9" y="741.13" font-size="13.2" text-anchor="middle" fill="#111">8</text>
<text x="899.2" y="741.13" font-size="13.2" text-anchor="middle" fill="#111">9</text>
<text x="920" y="741.95" font-size="15.5" text-anchor="middle" fill="#111">C</text>
<text x="811.6" y="579.72" font-size="18.2" font-style="italic">High stability</text>
<g font-family="Liberation Sans, sans-serif" font-weight="bold" font-size="100">
<text transform="matrix(0.5254 0 0 0.0896 691.22 888.85)" font-family="Liberation Mono, monospace">I</text>
<text transform="matrix(0.4632 0 0 0.1686 692.15 900.85)">F</text>
<text transform="matrix(0.3619 0 0 0.1541 694.93 911.85)">X</text>
<text transform="matrix(0.3638 0 0 0.0523 692.82 915.85)" fill="#1010ee">K</text>
<text transform="matrix(0.3597 0 0 0.0523 695 919.85)" fill="#00c800">V</text>
<text transform="matrix(0.4579 0 0 0.9332 716.29 867.85)">L</text>
<text transform="matrix(0.3382 0 0 0.2145 717.96 883.23)" fill="#00c800">Q</text>
<text transform="matrix(0.3597 0 0 0.1744 719.1 899.85)">V</text>
<text transform="matrix(0.3991 0 0 0.1294 718.9 909.15)" fill="#00c800">T</text>
<text transform="matrix(0.5254 0 0 0.1063 715.32 916.55)" font-family="Liberation Mono, monospace">I</text>
<text transform="matrix(0.3361 0 0 0.0422 717.1 919.85)">M</text>
<text transform="matrix(0.3832 0 0 0.1381 740.89 909.15)" fill="#e3000f">D</text>
<text transform="matrix(0.4153 0 0 0.048 740.67 912.85)">P</text>
<text transform="matrix(0.3922 0 0 0.0508 742.32 916.8)" fill="#00c800">S</text>
<text transform="matrix(0.3638 0 0 0.0378 741.02 919.85)" fill="#1010ee">K</text>
<text transform="matrix(0.4189 0 0 0.1017 764.75 902.25)" fill="#e3000f">E</text>
<text transform="matrix(0.3832 0 0 0.0669 764.99 907.25)" fill="#e3000f">D</text>
<text transform="matrix(0.4153 0 0 0.032 764.77 909.85)">P</text>
<text transform="matrix(0.3638 0 0 0.0378 765.12 912.85)" fill="#1010ee">K</text>
<text transform="matrix(0.3922 0 0 0.0508 766.42 916.8)" fill="#00c800">S</text>
<text transform="matrix(0.3702 0 0 0.0378 765.07 919.85)" fill="#1010ee">R</text>
<text transform="matrix(0.3638 0 0 0.0465 789.22 902.85)" fill="#1010ee">K</text>
<text transform="matrix(0.4189 0 0 0.0305 788.85 905.35)" fill="#e3000f">E</text>
<text transform="matrix(0.3482 0 0 0.072 790.22 910.78)" fill="#00c800">G</text>
<text transform="matrix(0.3832 0 0 0.0233 789.09 912.85)" fill="#e3000f">D</text>
<text transform="matrix(0.3922 0 0 0.0508 790.52 916.8)" fill="#00c800">S</text>
<text transform="matrix(0.3702 0 0 0.0378 789.17 919.85)" fill="#1010ee">R</text>
<text transform="matrix(0.4153 0 0 0.061 812.97 906.85)">P</text>
<text transform="matrix(0.4189 0 0 0.0233 812.95 908.85)" fill="#e3000f">E</text>
<text transform="matrix(0.3482 0 0 0.065 814.32 913.79)" fill="#00c800">G</text>
<text transform="matrix(0.3638 0 0 0.0305 813.32 916.35)" fill="#1010ee">K</text>
<text transform="matrix(0.3922 0 0 0.0438 814.62 919.81)" fill="#00c800">S</text>
<text transform="matrix(0.3997 0 0 0.0669 837.18 905.85)" fill="#1010ee">H</text>
<text transform="matrix(0.3597 0 0 0.0669 839.6 910.85)">V</text>
<text transform="matrix(0.4189 0 0 0.016 837.05 912.35)" fill="#e3000f">E</text>
<text transform="matrix(0.3991 0 0 0.0451 839.4 915.85)" fill="#00c800">T</text>
<text transform="matrix(0.3638 0 0 0.0523 837.42 919.85)" fill="#1010ee">K</text>
<text transform="matrix(0.3638 0 0 0.0523 861.52 904.85)" fill="#1010ee">K</text>
<text transform="matrix(0.4189 0 0 0.0233 861.15 906.85)" fill="#e3000f">E</text>
<text transform="matrix(0.3922 0 0 0.0508 862.82 910.8)" fill="#00c800">S</text>
<text transform="matrix(0.3702 0 0 0.0378 861.47 913.85)" fill="#1010ee">R</text>
<text transform="matrix(0.3991 0 0 0.0814 863.5 919.85)" fill="#00c800">T</text>
<text transform="matrix(0.3597 0 0 0.859 887.8 833.35)">V</text>
<text transform="matrix(0.4579 0 0 0.8343 884.99 891.15)">L</text>
<text transform="matrix(0.3503 0 0 0.2631 887.18 909.65)">A</text>
<text transform="matrix(0.5254 0 0 0.1488 884.02 919.85)" font-family="Liberation Mono, monospace">I</text>
<text transform="matrix(0.3482 0 0 0.0508 693.82 924.8)" fill="#00c800" opacity="0.75">G</text>
<text transform="matrix(0.3638 0 0 0.0378 692.82 927.85)" fill="#1010ee" opacity="0.75">K</text>
<text transform="matrix(0.3922 0 0 0.0367 694.12 930.81)" fill="#00c800" opacity="0.75">S</text>
<text transform="matrix(0.3991 0 0 0.0451 694.8 934.35)" fill="#00c800" opacity="0.75">T</text>
<text transform="matrix(0.4189 0 0 0.0523 716.55 924.85)" fill="#e3000f" opacity="0.75">E</text>
<text transform="matrix(0.3922 0 0 0.0508 718.22 928.8)" fill="#00c800" opacity="0.75">S</text>
<text transform="matrix(0.3991 0 0 0.0523 718.9 932.85)" fill="#00c800" opacity="0.75">T</text>
<text transform="matrix(0.3503 0 0 0.0858 718.48 939.15)" opacity="0.75">A</text>
<text transform="matrix(0.4189 0 0 0.0523 740.65 924.85)" fill="#e3000f" opacity="0.75">E</text>
<text transform="matrix(0.3638 0 0 0.0523 741.02 928.85)" fill="#1010ee" opacity="0.75">K</text>
<text transform="matrix(0.3482 0 0 0.0508 742.02 932.8)" fill="#00c800" opacity="0.75">G</text>
<text transform="matrix(0.3594 0 0 0.0833 741.98 939.07)" opacity="0.75">C</text>
<text transform="matrix(0.3638 0 0 0.0523 765.12 924.85)" fill="#1010ee" opacity="0.75">K</text>
<text transform="matrix(0.3922 0 0 0.0508 766.42 928.8)" fill="#00c800" opacity="0.75">S</text>
<text transform="matrix(0.3503 0 0 0.0741 766.68 934.35)" fill="#00c800" opacity="0.75">A</text>
<text transform="matrix(0.3503 0 0 0.0378 790.78 923.85)" fill="#777" opacity="0.75">A</text>
<text transform="matrix(0.3638 0 0 0.0523 789.22 927.85)" fill="#1010ee" opacity="0.75">K</text>
<text transform="matrix(0.3503 0 0 0.0523 814.88 924.85)" fill="#777" opacity="0.75">A</text>
<text transform="matrix(0.4189 0 0 0.0378 812.95 927.85)" fill="#e3000f" opacity="0.75">E</text>
<text transform="matrix(0.3922 0 0 0.0579 814.62 932.29)" fill="#00c800" opacity="0.75">S</text>
<text transform="matrix(0.3922 0 0 0.0508 838.72 924.8)" fill="#00c800" opacity="0.75">S</text>
<text transform="matrix(0.3638 0 0 0.0523 837.42 928.85)" fill="#1010ee" opacity="0.75">K</text>
<text transform="matrix(0.3503 0 0 0.0741 838.98 934.35)" opacity="0.75">A</text>
<text transform="matrix(0.3503 0 0 0.0523 863.08 924.85)" fill="#777" opacity="0.75">A</text>
<text transform="matrix(0.3922 0 0 0.0508 862.82 928.8)" fill="#00c800" opacity="0.75">S</text>
<text transform="matrix(0.4632 0 0 0.0451 860.85 932.35)" opacity="0.75">F</text>
<text transform="matrix(0.4189 0 0 0.0523 885.25 924.85)" fill="#e3000f" opacity="0.75">E</text>
<text transform="matrix(0.3638 0 0 0.0523 885.62 928.85)" fill="#1010ee" opacity="0.75">K</text>
<text transform="matrix(0.4632 0 0 0.0378 884.95 931.85)" opacity="0.75">F</text>
<text transform="matrix(0.3922 0 0 0.0508 886.92 935.8)" fill="#00c800" opacity="0.75">S</text>
</g>
<line x1="694.8" y1="921.5" x2="930.5" y2="921.5" stroke="#8a9a5a" stroke-width="1" stroke-opacity="0.8"/>
<line x1="694.8" y1="773.2" x2="694.8" y2="939.3" stroke="#777" stroke-width="1.1" />
<path d="M694.8 786.9h-4.5M694.8 809.1h-4.5M694.8 831.3h-4.5M694.8 853.5h-4.5M694.8 875.7h-4.5M694.8 897.9h-4.5M694.8 920.1h-4.5M694.8 920.1h-2.2M694.8 917.88h-2.2M694.8 915.66h-2.2M694.8 913.44h-2.2M694.8 911.22h-2.2M694.8 909h-2.2M694.8 906.78h-2.2M694.8 904.56h-2.2M694.8 902.34h-2.2M694.8 900.12h-2.2M694.8 897.9h-2.2M694.8 895.68h-2.2M694.8 893.46h-2.2M694.8 891.24h-2.2M694.8 889.02h-2.2M694.8 886.8h-2.2M694.8 884.58h-2.2M694.8 882.36h-2.2M694.8 880.14h-2.2M694.8 877.92h-2.2M694.8 875.7h-2.2M694.8 873.48h-2.2M694.8 871.26h-2.2M694.8 869.04h-2.2M694.8 866.82h-2.2M694.8 864.6h-2.2M694.8 862.38h-2.2M694.8 860.16h-2.2M694.8 857.94h-2.2M694.8 855.72h-2.2M694.8 853.5h-2.2M694.8 851.28h-2.2M694.8 849.06h-2.2M694.8 846.84h-2.2M694.8 844.62h-2.2M694.8 842.4h-2.2M694.8 840.18h-2.2M694.8 837.96h-2.2M694.8 835.74h-2.2M694.8 833.52h-2.2M694.8 831.3h-2.2M694.8 829.08h-2.2M694.8 826.86h-2.2M694.8 824.64h-2.2M694.8 822.42h-2.2M694.8 820.2h-2.2M694.8 817.98h-2.2M694.8 815.76h-2.2M694.8 813.54h-2.2M694.8 811.32h-2.2M694.8 809.1h-2.2M694.8 806.88h-2.2M694.8 804.66h-2.2M694.8 802.44h-2.2M694.8 800.22h-2.2M694.8 798h-2.2M694.8 795.78h-2.2M694.8 793.56h-2.2M694.8 791.34h-2.2M694.8 789.12h-2.2M694.8 786.9h-2.2M694.8 784.68h-2.2M694.8 782.46h-2.2M694.8 780.24h-2.2M694.8 778.02h-2.2M694.8 775.8h-2.2M694.8 773.58h-2.2M694.8 922.32h-2.2M694.8 924.54h-2.2M694.8 926.76h-2.2M694.8 928.98h-2.2M694.8 931.2h-2.2M694.8 933.42h-2.2M694.8 935.64h-2.2M694.8 937.86h-2.2" stroke="#777" stroke-width="1" fill="none"/>
<text x="683.4" y="789.1" text-anchor="end" font-size="10.8" letter-spacing="0.9" fill="#111">1.2</text>
<text x="683.4" y="811.58" text-anchor="end" font-size="10.8" letter-spacing="0.9" fill="#111">1.0</text>
<text x="683.4" y="834.07" text-anchor="end" font-size="10.8" letter-spacing="0.9" fill="#111">0.8</text>
<text x="683.4" y="856.55" text-anchor="end" font-size="10.8" letter-spacing="0.9" fill="#111">0.6</text>
<text x="683.4" y="879.03" text-anchor="end" font-size="10.8" letter-spacing="0.9" fill="#111">0.4</text>
<text x="683.4" y="901.52" text-anchor="end" font-size="10.8" letter-spacing="0.9" fill="#111">0.2</text>
<text x="683.4" y="924" text-anchor="end" font-size="10.8" letter-spacing="0.9" fill="#111">0.0</text>
<text font-size="14" text-anchor="middle" fill="#111" transform="translate(652 852.5) rotate(-90)">Bits</text>
<text x="688.5" y="954.75" font-size="15.5" text-anchor="middle" fill="#111">N</text>
<text x="707" y="953.93" font-size="13.2" text-anchor="middle" fill="#111">1</text>
<text x="731.1" y="953.93" font-size="13.2" text-anchor="middle" fill="#111">2</text>
<text x="755.2" y="953.93" font-size="13.2" text-anchor="middle" fill="#111">3</text>
<text x="779.3" y="953.93" font-size="13.2" text-anchor="middle" fill="#111">4</text>
<text x="803.4" y="953.93" font-size="13.2" text-anchor="middle" fill="#111">5</text>
<text x="827.5" y="953.93" font-size="13.2" text-anchor="middle" fill="#111">6</text>
<text x="851.6" y="953.93" font-size="13.2" text-anchor="middle" fill="#111">7</text>
<text x="875.7" y="953.93" font-size="13.2" text-anchor="middle" fill="#111">8</text>
<text x="899.8" y="953.93" font-size="13.2" text-anchor="middle" fill="#111">9</text>
<text x="920" y="954.75" font-size="15.5" text-anchor="middle" fill="#111">C</text>
<text x="808.6" y="769.32" font-size="18.2" font-style="italic">Low stability</text>
<g font-family="Liberation Sans, sans-serif" font-weight="bold" font-size="100">
<text transform="matrix(0.3708 0 0 0.0829 1011.42 688.35)" fill="#00c800">Y</text>
<text transform="matrix(0.4632 0 0 0.0596 1008.95 692.85)">F</text>
<text transform="matrix(0.3638 0 0 0.0901 1009.62 699.45)" fill="#1010ee">K</text>
<text transform="matrix(0.3922 0 0 0.0424 1010.92 702.81)" fill="#00c800">S</text>
<text transform="matrix(0.3702 0 0 0.0887 1009.57 709.35)" fill="#1010ee">R</text>
<text transform="matrix(0.4579 0 0 1.8983 1033.52 692.55)">L</text>
<text transform="matrix(0.5254 0 0 0.1245 1032.55 701.15)" font-family="Liberation Mono, monospace">I</text>
<text transform="matrix(0.3361 0 0 0.1134 1034.33 709.35)">M</text>
<text transform="matrix(0.4632 0 0 0.0233 1058.01 690.85)">F</text>
<text transform="matrix(0.3832 0 0 0.0523 1058.55 694.85)" fill="#e3000f">D</text>
<text transform="matrix(0.3503 0 0 0.0523 1060.24 698.85)">A</text>
<text transform="matrix(0.3922 0 0 0.0791 1059.98 704.77)" fill="#00c800">S</text>
<text transform="matrix(0.3991 0 0 0.0596 1060.66 709.35)" fill="#00c800">T</text>
<text transform="matrix(0.4189 0 0 0.1802 1082.84 679.05)" fill="#e3000f">E</text>
<text transform="matrix(0.3832 0 0 0.2093 1083.08 693.85)" fill="#e3000f">D</text>
<text transform="matrix(0.4153 0 0 0.0756 1082.86 699.45)">P</text>
<text transform="matrix(0.3638 0 0 0.0727 1083.21 704.85)" fill="#1010ee">K</text>
<text transform="matrix(0.3922 0 0 0.0579 1084.51 709.29)" fill="#00c800">S</text>
<text transform="matrix(0.3638 0 0 0.0523 1107.74 703.85)" fill="#1010ee">K</text>
<text transform="matrix(0.3922 0 0 0.072 1109.04 709.28)" fill="#00c800">S</text>
<text transform="matrix(0.4632 0 0 0.0567 1131.6 698.85)">F</text>
<text transform="matrix(0.3597 0 0 0.0669 1134.45 703.85)">V</text>
<text transform="matrix(0.3922 0 0 0.072 1133.57 709.28)" fill="#00c800">S</text>
<text transform="matrix(0.3997 0 0 0.0407 1156.56 692.85)" fill="#1010ee">H</text>
<text transform="matrix(0.3597 0 0 0.0669 1158.98 697.85)">V</text>
<text transform="matrix(0.4189 0 0 0.0378 1156.43 700.85)" fill="#e3000f">E</text>
<text transform="matrix(0.3991 0 0 0.0669 1158.78 705.85)" fill="#00c800">T</text>
<text transform="matrix(0.3638 0 0 0.0451 1156.8 709.35)" fill="#1010ee">K</text>
<text transform="matrix(0.3638 0 0 0.0843 1181.33 693.85)" fill="#1010ee">K</text>
<text transform="matrix(0.4189 0 0 0.0233 1180.96 695.85)" fill="#e3000f">E</text>
<text transform="matrix(0.3922 0 0 0.0791 1182.63 701.77)" fill="#00c800">S</text>
<text transform="matrix(0.3702 0 0 0.0523 1181.28 705.85)" fill="#1010ee">R</text>
<text transform="matrix(0.3991 0 0 0.0451 1183.31 709.35)" fill="#00c800">T</text>
<text transform="matrix(0.3597 0 0 0.7573 1208.04 655.15)">V</text>
<text transform="matrix(0.4579 0 0 0.5814 1205.23 695.55)">L</text>
<text transform="matrix(0.5254 0 0 0.2034 1204.26 709.35)" font-family="Liberation Mono, monospace">I</text>
<text transform="matrix(0.3482 0 0 0.0508 1010.62 714.8)" fill="#00c800" opacity="0.75">G</text>
<text transform="matrix(0.3503 0 0 0.0378 1011.18 717.85)" fill="#777" opacity="0.75">A</text>
<text transform="matrix(0.3922 0 0 0.0367 1010.92 720.81)" fill="#00c800" opacity="0.75">S</text>
<text transform="matrix(0.3708 0 0 0.0596 1011.42 725.35)" opacity="0.75">Y</text>
<text transform="matrix(0.3922 0 0 0.0367 1035.45 713.81)" fill="#00c800" opacity="0.75">S</text>
<text transform="matrix(0.3991 0 0 0.0523 1036.13 717.85)" fill="#00c800" opacity="0.75">T</text>
<text transform="matrix(0.3597 0 0 0.1032 1036.33 725.35)" opacity="0.75">V</text>
<text transform="matrix(0.3482 0 0 0.0367 1059.68 713.81)" fill="#00c800" opacity="0.75">G</text>
<text transform="matrix(0.3382 0 0 0.029 1059.72 716.28)" fill="#00c800" opacity="0.75">Q</text>
<text transform="matrix(0.3638 0 0 0.0378 1083.21 713.85)" fill="#1010ee" opacity="0.75">K</text>
<text transform="matrix(0.3482 0 0 0.072 1084.21 719.28)" fill="#00c800" opacity="0.75">G</text>
<text transform="matrix(0.3922 0 0 0.0791 1084.51 725.27)" fill="#00c800" opacity="0.75">S</text>
<text transform="matrix(0.3503 0 0 0.0451 1109.3 714.35)" fill="#777" opacity="0.75">A</text>
<text transform="matrix(0.3922 0 0 0.0367 1133.57 713.81)" fill="#00c800" opacity="0.75">S</text>
<text transform="matrix(0.3482 0 0 0.0438 1133.27 717.31)" fill="#00c800" opacity="0.75">G</text>
<text transform="matrix(0.3482 0 0 0.0508 1157.8 714.8)" fill="#00c800" opacity="0.75">G</text>
<text transform="matrix(0.4632 0 0 0.0523 1156.13 718.85)" opacity="0.75">F</text>
<text transform="matrix(0.3503 0 0 0.0378 1182.89 713.85)" fill="#777" opacity="0.75">A</text>
<text transform="matrix(0.4579 0 0 0.0378 1180.7 716.85)" fill="#777" opacity="0.75">L</text>
<text transform="matrix(0.3922 0 0 0.0438 1207.16 714.31)" fill="#00c800" opacity="0.75">S</text>
<text transform="matrix(0.4632 0 0 0.0451 1205.19 717.85)" opacity="0.75">F</text>
<text transform="matrix(0.3503 0 0 0.0887 1207.42 724.35)" opacity="0.75">A</text>
</g>
<line x1="1010.5" y1="710.7" x2="1251.5" y2="710.7" stroke="#f06060" stroke-width="1" stroke-opacity="0.8"/>
<line x1="1010.5" y1="562" x2="1010.5" y2="725.2" stroke="#777" stroke-width="1.1" />
<path d="M1010.5 562.5h-4.5M1010.5 599.2h-4.5M1010.5 635.9h-4.5M1010.5 672.6h-4.5M1010.5 709.3h-4.5M1010.5 709.3h-2.2M1010.5 701.96h-2.2M1010.5 694.62h-2.2M1010.5 687.28h-2.2M1010.5 679.94h-2.2M1010.5 672.6h-2.2M1010.5 665.26h-2.2M1010.5 657.92h-2.2M1010.5 650.58h-2.2M1010.5 643.24h-2.2M1010.5 635.9h-2.2M1010.5 628.56h-2.2M1010.5 621.22h-2.2M1010.5 613.88h-2.2M1010.5 606.54h-2.2M1010.5 599.2h-2.2M1010.5 591.86h-2.2M1010.5 584.52h-2.2M1010.5 577.18h-2.2M1010.5 569.84h-2.2M1010.5 562.5h-2.2M1010.5 716.64h-2.2M1010.5 723.98h-2.2" stroke="#777" stroke-width="1" fill="none"/>
<text x="998.9" y="566.9" text-anchor="end" font-size="10.8" letter-spacing="0.9" fill="#111">2.0</text>
<text x="998.9" y="603.6" text-anchor="end" font-size="10.8" letter-spacing="0.9" fill="#111">1.5</text>
<text x="998.9" y="640.3" text-anchor="end" font-size="10.8" letter-spacing="0.9" fill="#111">1.0</text>
<text x="998.9" y="677" text-anchor="end" font-size="10.8" letter-spacing="0.9" fill="#111">0.5</text>
<text x="998.9" y="713.7" text-anchor="end" font-size="10.8" letter-spacing="0.9" fill="#111">0.0</text>
<text font-size="14" text-anchor="middle" fill="#111" transform="translate(967.5 643.4) rotate(-90)">Bits</text>
<text x="989.2" y="741.95" font-size="15.5" text-anchor="middle" fill="#111">N</text>
<text x="1007.7" y="741.13" font-size="13.2" text-anchor="middle" fill="#111">1</text>
<text x="1032.2" y="741.13" font-size="13.2" text-anchor="middle" fill="#111">2</text>
<text x="1056.7" y="741.13" font-size="13.2" text-anchor="middle" fill="#111">3</text>
<text x="1081.2" y="741.13" font-size="13.2" text-anchor="middle" fill="#111">4</text>
<text x="1105.7" y="741.13" font-size="13.2" text-anchor="middle" fill="#111">5</text>
<text x="1130.2" y="741.13" font-size="13.2" text-anchor="middle" fill="#111">6</text>
<text x="1154.7" y="741.13" font-size="13.2" text-anchor="middle" fill="#111">7</text>
<text x="1179.2" y="741.13" font-size="13.2" text-anchor="middle" fill="#111">8</text>
<text x="1203.7" y="741.13" font-size="13.2" text-anchor="middle" fill="#111">9</text>
<text x="1220.6" y="741.95" font-size="15.5" text-anchor="middle" fill="#111">C</text>
<text x="1070.5" y="579.72" font-size="18.2" font-style="italic">High EL likelihood</text>
<g font-family="Liberation Sans, sans-serif" font-weight="bold" font-size="100">
<text transform="matrix(0.3638 0 0 0.0567 1011.32 889.85)" fill="#1010ee">K</text>
<text transform="matrix(0.3503 0 0 0.0959 1012.88 896.85)">A</text>
<text transform="matrix(0.3922 0 0 0.0367 1012.62 899.81)" fill="#00c800">S</text>
<text transform="matrix(0.3702 0 0 0.0523 1011.27 903.85)" fill="#1010ee">R</text>
<text transform="matrix(0.4632 0 0 0.0233 1010.65 905.85)">F</text>
<text transform="matrix(0.3991 0 0 0.0567 1013.3 910.15)" fill="#00c800">T</text>
<text transform="matrix(0.4579 0 0 0.8707 1034.83 861.65)">L</text>
<text transform="matrix(0.3597 0 0 0.2631 1037.64 880.15)">V</text>
<text transform="matrix(0.5254 0 0 0.1807 1033.86 892.45)" font-family="Liberation Mono, monospace">I</text>
<text transform="matrix(0.3382 0 0 0.1452 1036.5 902.99)" fill="#00c800">Q</text>
<text transform="matrix(0.3361 0 0 0.0567 1035.64 910.15)">M</text>
<text transform="matrix(0.3832 0 0 0.0509 1059.47 894.35)" fill="#e3000f">D</text>
<text transform="matrix(0.3503 0 0 0.0887 1061.16 900.85)">A</text>
<text transform="matrix(0.3922 0 0 0.065 1060.9 905.79)" fill="#00c800">S</text>
<text transform="matrix(0.3638 0 0 0.0567 1059.6 910.15)" fill="#1010ee">K</text>
<text transform="matrix(0.4189 0 0 0.1512 1083.37 873.25)" fill="#e3000f">E</text>
<text transform="matrix(0.3832 0 0 0.1192 1083.61 881.85)" fill="#e3000f">D</text>
<text transform="matrix(0.3482 0 0 0.1031 1084.74 889.45)" fill="#00c800">G</text>
<text transform="matrix(0.4153 0 0 0.0712 1083.39 894.85)">P</text>
<text transform="matrix(0.3922 0 0 0.0833 1085.04 901.07)" fill="#00c800">S</text>
<text transform="matrix(0.3638 0 0 0.0625 1083.74 905.85)" fill="#1010ee">K</text>
<text transform="matrix(0.3991 0 0 0.0567 1085.72 910.15)" fill="#00c800">T</text>
<text transform="matrix(0.3638 0 0 0.0378 1107.88 905.85)" fill="#1010ee">K</text>
<text transform="matrix(0.4189 0 0 0.0567 1107.51 910.15)" fill="#e3000f">E</text>
<text transform="matrix(0.4632 0 0 0.0451 1131.35 895.85)">F</text>
<text transform="matrix(0.3619 0 0 0.1497 1134.13 906.55)">X</text>
<text transform="matrix(0.3922 0 0 0.0452 1133.32 910.11)" fill="#00c800">S</text>
<text transform="matrix(0.3997 0 0 0.0596 1155.92 886.35)" fill="#1010ee">H</text>
<text transform="matrix(0.4632 0 0 0.0451 1155.49 889.85)">F</text>
<text transform="matrix(0.4189 0 0 0.0451 1155.79 893.35)" fill="#e3000f">E</text>
<text transform="matrix(0.3708 0 0 0.0887 1157.96 899.85)">Y</text>
<text transform="matrix(0.3922 0 0 0.0367 1157.46 902.81)" fill="#00c800">S</text>
<text transform="matrix(0.3638 0 0 0.0378 1156.16 905.85)" fill="#1010ee">K</text>
<text transform="matrix(0.4579 0 0 0.0567 1155.53 910.15)">L</text>
<text transform="matrix(0.3638 0 0 0.0523 1180.3 892.85)" fill="#1010ee">K</text>
<text transform="matrix(0.4189 0 0 0.0305 1179.93 895.35)" fill="#e3000f">E</text>
<text transform="matrix(0.3503 0 0 0.0596 1181.86 899.85)">A</text>
<text transform="matrix(0.3922 0 0 0.0791 1181.6 905.77)" fill="#00c800">S</text>
<text transform="matrix(0.3702 0 0 0.0567 1180.25 910.15)" fill="#1010ee">R</text>
<text transform="matrix(0.3597 0 0 0.8765 1206.62 834.55)">V</text>
<text transform="matrix(0.4579 0 0 0.4956 1203.81 869.05)">L</text>
<text transform="matrix(0.3503 0 0 0.4346 1206 899.35)">A</text>
<text transform="matrix(0.5254 0 0 0.1579 1202.84 910.15)" font-family="Liberation Mono, monospace">I</text>
<text transform="matrix(0.3922 0 0 0.0226 1012.62 913.83)" fill="#00c800" opacity="0.75">S</text>
<text transform="matrix(0.3638 0 0 0.0378 1011.32 916.85)" fill="#777" opacity="0.75">K</text>
<text transform="matrix(0.4189 0 0 0.0349 1035.09 914.65)" fill="#e3000f" opacity="0.75">E</text>
<text transform="matrix(0.3922 0 0 0.0678 1036.76 919.78)" fill="#00c800" opacity="0.75">S</text>
<text transform="matrix(0.3991 0 0 0.1512 1037.44 930.65)" fill="#00c800" opacity="0.75">T</text>
<text transform="matrix(0.3503 0 0 0.1134 1037.02 938.85)" opacity="0.75">A</text>
<text transform="matrix(0.3482 0 0 0.0367 1060.6 914.81)" fill="#00c800" opacity="0.75">G</text>
<text transform="matrix(0.3922 0 0 0.0438 1060.9 918.31)" fill="#00c800" opacity="0.75">S</text>
<text transform="matrix(0.3702 0 0 0.0523 1083.69 915.85)" fill="#1010ee" opacity="0.75">R</text>
<text transform="matrix(0.3482 0 0 0.0508 1084.74 919.8)" fill="#00c800" opacity="0.75">G</text>
<text transform="matrix(0.3503 0 0 0.0669 1085.3 924.85)" opacity="0.75">A</text>
<text transform="matrix(0.3503 0 0 0.0669 1109.44 916.85)" fill="#777" opacity="0.75">A</text>
<text transform="matrix(0.3503 0 0 0.0378 1133.58 914.85)" fill="#777" opacity="0.75">A</text>
<text transform="matrix(0.4189 0 0 0.0378 1131.65 917.85)" fill="#e3000f" opacity="0.75">E</text>
<text transform="matrix(0.3482 0 0 0.0367 1133.02 920.81)" fill="#00c800" opacity="0.75">G</text>
<text transform="matrix(0.3922 0 0 0.0311 1133.32 923.42)" fill="#00c800" opacity="0.75">S</text>
<text transform="matrix(0.3638 0 0 0.0378 1156.16 914.85)" fill="#1010ee" opacity="0.75">K</text>
<text transform="matrix(0.3482 0 0 0.0438 1157.16 918.31)" fill="#00c800" opacity="0.75">G</text>
<text transform="matrix(0.3503 0 0 0.0451 1181.86 915.35)" fill="#777" opacity="0.75">A</text>
<text transform="matrix(0.4632 0 0 0.0378 1179.63 918.35)" opacity="0.75">F</text>
<text transform="matrix(0.4189 0 0 0.0378 1204.07 914.85)" fill="#e3000f" opacity="0.75">E</text>
<text transform="matrix(0.3638 0 0 0.0378 1204.44 917.85)" fill="#1010ee" opacity="0.75">K</text>
<text transform="matrix(0.3922 0 0 0.065 1205.74 922.79)" fill="#00c800" opacity="0.75">S</text>
<text transform="matrix(0.4632 0 0 0.0378 1203.77 925.85)" opacity="0.75">F</text>
<text transform="matrix(0.3482 0 0 0.065 1205.44 930.79)" fill="#00c800" opacity="0.75">G</text>
</g>
<line x1="1012.8" y1="911.7" x2="1249" y2="911.7" stroke="#aaa" stroke-width="1" stroke-opacity="0.8"/>
<line x1="1012.8" y1="774.4" x2="1012.8" y2="938" stroke="#777" stroke-width="1.1" />
<path d="M1012.8 785.7h-4.5M1012.8 810.6h-4.5M1012.8 835.4h-4.5M1012.8 860.3h-4.5M1012.8 885.1h-4.5M1012.8 910h-4.5M1012.8 934.8h-4.5M1012.8 910h-2.2M1012.8 907.51h-2.2M1012.8 905.03h-2.2M1012.8 902.54h-2.2M1012.8 900.06h-2.2M1012.8 897.57h-2.2M1012.8 895.09h-2.2M1012.8 892.6h-2.2M1012.8 890.12h-2.2M1012.8 887.63h-2.2M1012.8 885.15h-2.2M1012.8 882.66h-2.2M1012.8 880.18h-2.2M1012.8 877.69h-2.2M1012.8 875.21h-2.2M1012.8 872.72h-2.2M1012.8 870.24h-2.2M1012.8 867.75h-2.2M1012.8 865.27h-2.2M1012.8 862.78h-2.2M1012.8 860.3h-2.2M1012.8 857.81h-2.2M1012.8 855.33h-2.2M1012.8 852.84h-2.2M1012.8 850.36h-2.2M1012.8 847.87h-2.2M1012.8 845.39h-2.2M1012.8 842.9h-2.2M1012.8 840.42h-2.2M1012.8 837.93h-2.2M1012.8 835.45h-2.2M1012.8 832.96h-2.2M1012.8 830.48h-2.2M1012.8 827.99h-2.2M1012.8 825.51h-2.2M1012.8 823.02h-2.2M1012.8 820.54h-2.2M1012.8 818.05h-2.2M1012.8 815.57h-2.2M1012.8 813.08h-2.2M1012.8 810.6h-2.2M1012.8 808.11h-2.2M1012.8 805.63h-2.2M1012.8 803.14h-2.2M1012.8 800.66h-2.2M1012.8 798.17h-2.2M1012.8 795.69h-2.2M1012.8 793.2h-2.2M1012.8 790.72h-2.2M1012.8 788.23h-2.2M1012.8 785.75h-2.2M1012.8 783.26h-2.2M1012.8 780.78h-2.2M1012.8 778.29h-2.2M1012.8 775.81h-2.2M1012.8 912.49h-2.2M1012.8 914.97h-2.2M1012.8 917.46h-2.2M1012.8 919.94h-2.2M1012.8 922.43h-2.2M1012.8 924.91h-2.2M1012.8 927.4h-2.2M1012.8 929.88h-2.2M1012.8 932.37h-2.2M1012.8 934.85h-2.2M1012.8 937.34h-2.2" stroke="#777" stroke-width="1" fill="none"/>
<text x="998.9" y="788.8" text-anchor="end" font-size="10.8" letter-spacing="0.9" fill="#111">1.0</text>
<text x="998.9" y="813.83" text-anchor="end" font-size="10.8" letter-spacing="0.9" fill="#111">0.8</text>
<text x="998.9" y="838.77" text-anchor="end" font-size="10.8" letter-spacing="0.9" fill="#111">0.6</text>
<text x="998.9" y="863.8" text-anchor="end" font-size="10.8" letter-spacing="0.9" fill="#111">0.4</text>
<text x="998.9" y="888.73" text-anchor="end" font-size="10.8" letter-spacing="0.9" fill="#111">0.2</text>
<text x="998.9" y="913.77" text-anchor="end" font-size="10.8" letter-spacing="0.9" fill="#111">0.0</text>
<text x="998.9" y="938.7" text-anchor="end" font-size="10.8" letter-spacing="0.9" fill="#111">−0.2</text>
<text font-size="14" text-anchor="middle" fill="#111" transform="translate(967.5 853.3) rotate(-90)">Bits</text>
<text x="990.5" y="954.35" font-size="15.5" text-anchor="middle" fill="#111">N</text>
<text x="1010.2" y="953.53" font-size="13.2" text-anchor="middle" fill="#111">1</text>
<text x="1034.15" y="953.53" font-size="13.2" text-anchor="middle" fill="#111">2</text>
<text x="1058.1" y="953.53" font-size="13.2" text-anchor="middle" fill="#111">3</text>
<text x="1082.05" y="953.53" font-size="13.2" text-anchor="middle" fill="#111">4</text>
<text x="1106" y="953.53" font-size="13.2" text-anchor="middle" fill="#111">5</text>
<text x="1129.95" y="953.53" font-size="13.2" text-anchor="middle" fill="#111">6</text>
<text x="1153.9" y="953.53" font-size="13.2" text-anchor="middle" fill="#111">7</text>
<text x="1177.85" y="953.53" font-size="13.2" text-anchor="middle" fill="#111">8</text>
<text x="1201.8" y="953.53" font-size="13.2" text-anchor="middle" fill="#111">9</text>
<text x="1222" y="954.35" font-size="15.5" text-anchor="middle" fill="#111">C</text>
<text x="1070.5" y="769.32" font-size="18.2" font-style="italic">Low EL likelihood</text>
</g>
</svg>
</body></html>
